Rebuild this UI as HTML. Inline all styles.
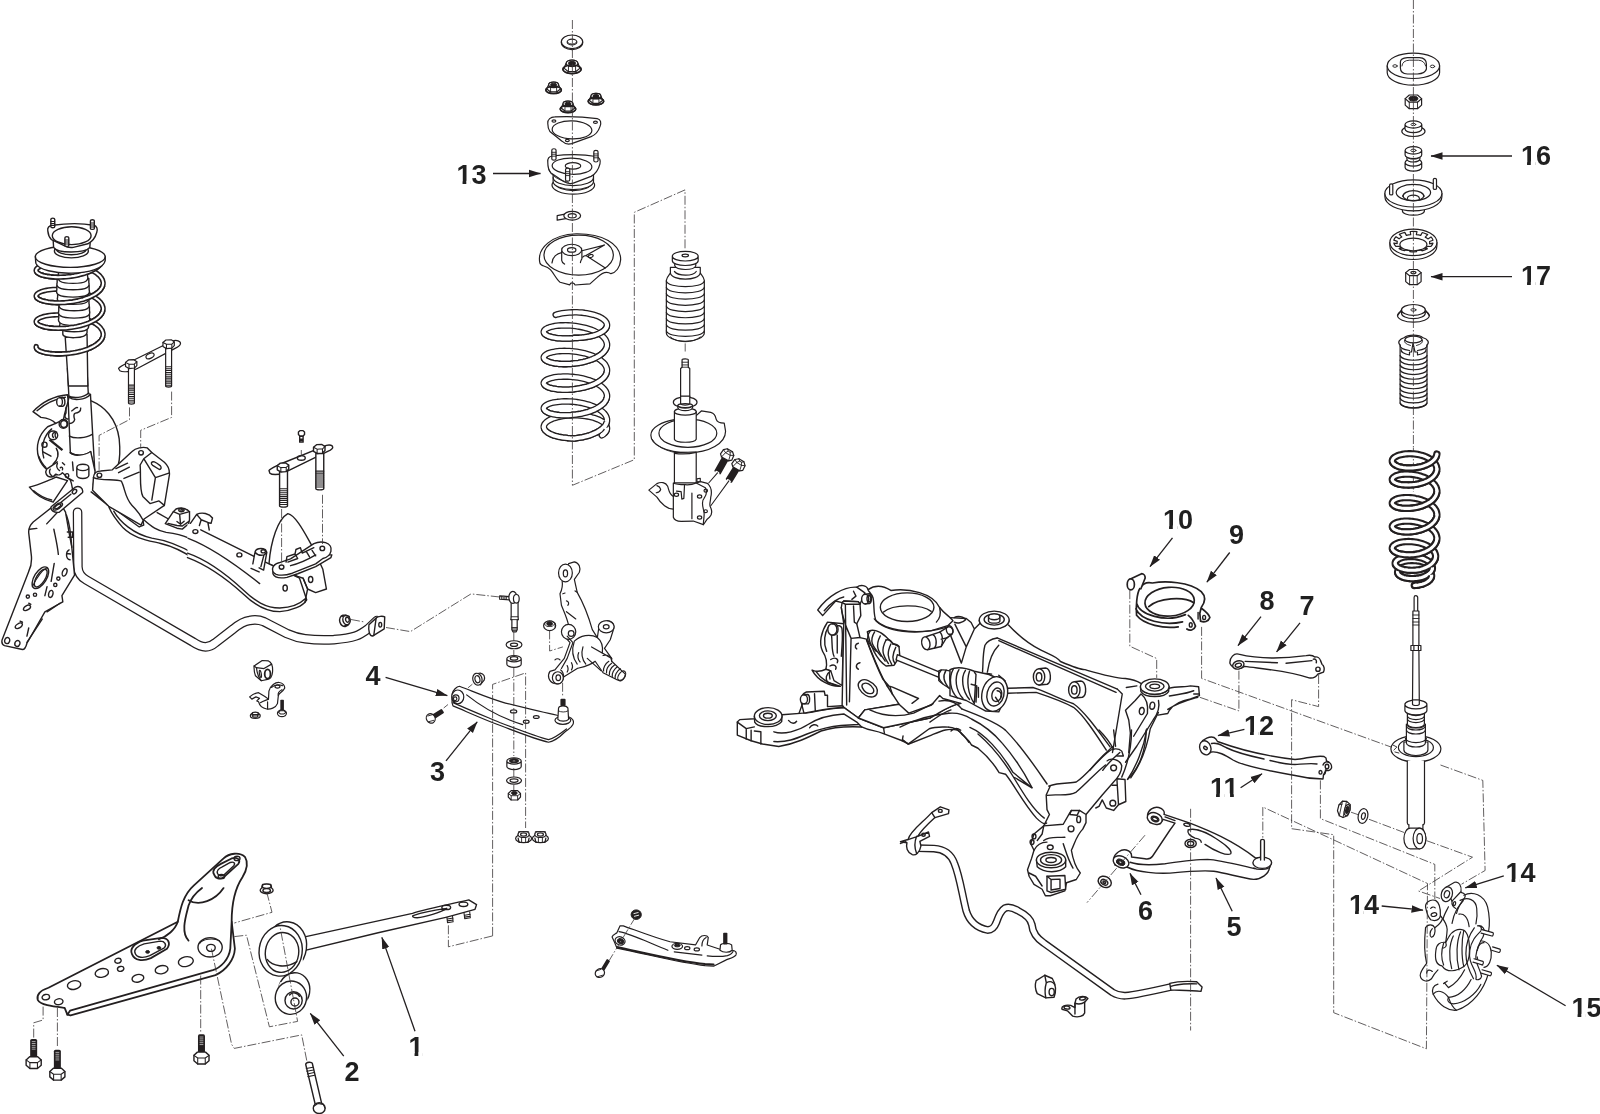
<!DOCTYPE html>
<html><head><meta charset="utf-8"><title>Suspension diagram</title>
<style>
html,body{margin:0;padding:0;background:#fff;}
body{width:1600px;height:1114px;overflow:hidden;font-family:"Liberation Sans",sans-serif;}
svg{display:block;}
.l{fill:none;stroke:#231f20;stroke-width:1.4;stroke-linecap:round;stroke-linejoin:round;}
.w{fill:#fff;stroke:#231f20;stroke-width:1.4;stroke-linecap:round;stroke-linejoin:round;}
.t{fill:none;stroke:#231f20;stroke-width:1.05;stroke-linecap:round;stroke-linejoin:round;}
.f{fill:#fff;stroke:none;}
#rightcol .l,#rightcol .w,#center_top .l,#center_top .w,#center_low .l,#center_low .w,#hub .l,#hub .w,#mid .l,#mid .w,#misc .l,#misc .w{stroke-width:1.2;}
#rightcol .t,#center_top .t,#center_low .t,#mid .t{stroke-width:0.9;}
.k{fill:#231f20;stroke:#231f20;stroke-width:1;stroke-linejoin:round;}
.l,.w,.t,.k,.d{vector-effect:non-scaling-stroke;}
.d{fill:none;stroke:#3a3637;stroke-width:0.8;stroke-dasharray:9 2 1.5 2;}
.a{fill:none;stroke:#231f20;stroke-width:1.3;}
.n{font-family:"Liberation Sans",sans-serif;font-weight:bold;font-size:27px;fill:#231f20;}
.s3{fill:none;stroke:#231f20;stroke-width:4.6;stroke-linecap:round;stroke-linejoin:round;}
.s3i{fill:none;stroke:#fff;stroke-width:2.2;stroke-linecap:round;stroke-linejoin:round;}
</style></head><body>
<svg width="1600" height="1114" viewBox="0 0 1600 1114">
<defs>
<marker id="ah" markerUnits="userSpaceOnUse" markerWidth="14" markerHeight="10" refX="11.5" refY="5" orient="auto"><path d="M0,1.3 L12,5 L0,8.7 Z" fill="#231f20"/></marker>
</defs>
<rect x="0" y="0" width="1600" height="1114" fill="#fff"/>
<g id="strutA">
<g transform="translate(10 370) scale(0.14368)"><path class="l" d="M565,215 C650,250 740,330 760,480 C768,560 765,620 752,668"/>
<path class="w" d="M160,290 C230,215 320,180 400,172 L405,215 C395,260 380,290 372,345 L318,372 C300,350 260,335 215,330 Z"/>
<path class="l" d="M188,283 C240,238 310,203 385,190"/>
<ellipse class="w" cx="345" cy="222" rx="20" ry="30"/>
<path class="l" d="M345,192 L368,190 C385,195 388,245 370,252 L345,252"/>
<path class="f" d="M262,395 C200,450 175,530 200,610 C215,650 235,675 255,690 L330,640 L400,590 L410,420 L330,385 Z"/>
<path class="l" d="M318,372 L262,395 C200,450 175,530 200,610 C215,650 235,675 255,690"/>
<path class="l" d="M290,410 C230,460 215,540 235,612 M200,600 C215,640 230,660 250,678"/>
<ellipse class="w" cx="300" cy="455" rx="32" ry="30"/>
<path class="l" d="M310,435 C295,438 290,455 302,470 M325,432 C312,440 310,458 320,472"/>
<ellipse class="l" cx="240" cy="520" rx="18" ry="18"/>
<path class="l" d="M230,570 L285,600"/>
<path d="M275,485 L365,558" fill="none" stroke="#231f20" stroke-width="2.4" vector-effect="non-scaling-stroke"/>
<path class="l" d="M322,545 C345,580 335,625 300,655"/>
<ellipse class="w" cx="372" cy="375" rx="30" ry="30"/>
<ellipse class="l" cx="375" cy="375" rx="22" ry="24"/>
<path class="f" d="M255,690 C240,715 255,745 285,745 C300,745 312,738 318,725 C335,735 355,730 365,715 C395,740 400,760 420,765 L440,700 L400,620 L330,640 Z"/>
<path class="l" d="M330,640 L255,690 C240,715 255,745 285,745 C300,745 312,738 318,725 C335,735 355,730 365,715 C395,740 400,760 420,765"/>
<path class="l" d="M280,690 C270,705 275,725 290,735 M330,650 C320,670 330,690 345,700 M365,645 L380,660 M350,680 C360,670 370,680 365,695"/>
<ellipse class="l" cx="397" cy="735" rx="12" ry="14"/>
<path class="w" d="M135,815 C200,800 250,775 290,760 L320,745 L400,770 L300,920 C230,900 170,860 135,815 Z"/>
<path class="l" d="M165,840 C210,880 250,895 290,905"/>
<path class="w" d="M400,-10 L410,190 L405,215 L420,575 C450,600 520,600 560,570 L590,700 L575,440 L560,170 L545,165 L535,-10 Z"/>
<path class="l" d="M410,190 C440,215 520,210 560,170 M400,178 C440,200 510,195 548,160"/>
<path class="l" d="M413,460 C450,480 530,475 572,448 M418,575 C450,600 520,600 562,568"/>
<path class="l" d="M395,250 C380,270 400,290 385,310 C375,330 395,345 405,340 M430,285 C450,275 455,255 470,262 M492,265 C495,290 470,300 455,300 C440,305 445,330 450,345 C445,365 430,370 415,372"/>
<path class="f" d="M420,600 C405,660 410,750 440,800 L575,830 L592,705 L562,570 C520,600 450,600 420,600 Z"/>
<path class="l" d="M562,570 L592,705 L580,800 M420,765 C430,790 432,810 436,835 M396,748 L440,772"/>
<path class="l" d="M435,640 L440,700"/>
<path class="w" d="M465,678 L465,733 A42,22 0 0 0 549,733 L549,678 A42,22 0 0 0 465,678 A42,22 0 0 0 549,678"/></g>
<g transform="translate(20 205) scale(0.16155)"></g><path d="M103.1,257.6 L103,258.9 L102.7,260.2 L102.1,261.5 L101.4,262.8 L100.5,264.1 L99.3,265.3 L98,266.5 L96.5,267.7 L94.8,268.8 L92.9,269.8 L90.9,270.8 L88.8,271.8 L86.6,272.6 L84.2,273.4 L81.7,274.1 L79.2,274.8 L76.6,275.4 L74,275.9 L71.3,276.3 L68.6,276.6 L65.9,276.9 L63.3,277 L60.7,277.1 L58.1,277.2 L55.7,277.1 L53.3,277 L51,276.8 L48.8,276.5 L46.8,276.2 L44.9,275.8 L43.2,275.4 L41.6,274.9 L40.2,274.4 L39,273.8 L38,273.2 L37.2,272.6 L36.7,271.9 L36.3,271.3 L36.1,270.6 L36.2,269.9 L36.4,269.2 L36.9,268.6 L37.6,267.9 L38.5,267.3 L39.6,266.7 L40.8,266.2 L42.3,265.7 L43.9,265.2 L45.7,264.8 L47.7,264.4 L49.8,264.1 L52,263.9 L54.4,263.7 L56.8,263.7 L59.3,263.6 L61.9,263.7 L64.5,263.8 L67.2,264 L69.9,264.3 L72.5,264.7 L75.2,265.2 L77.8,265.7 L80.4,266.3 L82.9,267 L85.3,267.7 L87.6,268.6 L89.8,269.5 L91.9,270.4 L93.8,271.5 L95.6,272.5 L97.2,273.7 L98.6,274.8 L99.9,276 L100.9,277.3 L101.8,278.6 L102.4,279.8 L102.8,281.2 L103.1,282.5 L103.1,283.8 L102.9,285.1 L102.5,286.4 L101.8,287.7 L101,289 L100,290.3 L98.7,291.5 L97.3,292.7 L95.7,293.8 L94,294.9 L92,295.9 L90,296.9 L87.8,297.8 L85.5,298.6 L83.1,299.4 L80.6,300 L78,300.7 L75.4,301.2 L72.7,301.7 L70.1,302 L67.4,302.3 L64.7,302.6 L62.1,302.7 L59.5,302.8 L57,302.8 L54.5,302.7 L52.2,302.5 L50,302.3 L47.9,302 L45.9,301.6 L44.1,301.2 L42.4,300.8 L40.9,300.3 L39.7,299.7 L38.5,299.1 L37.6,298.5 L36.9,297.9 L36.5,297.2 L36.2,296.5 L36.1,295.9 L36.3,295.2 L36.6,294.5 L37.2,293.9 L38,293.3 L38.9,292.6 L40.1,292.1 L41.5,291.5 L43,291.1 L44.8,290.6 L46.6,290.2 L48.7,289.9 L50.8,289.6 L53.1,289.4 L55.5,289.3 L57.9,289.2 L60.5,289.2 L63.1,289.3 L65.7,289.5 L68.4,289.8 L71.1,290.1 L73.8,290.5 L76.4,291 L79,291.6 L81.5,292.2 L84,292.9 L86.4,293.7 L88.6,294.6 L90.8,295.5 L92.8,296.5 L94.6,297.5 L96.3,298.6 L97.9,299.8 L99.2,301 L100.4,302.2 L101.3,303.5 L102.1,304.7 L102.6,306.1 L103,307.4 L103.1,308.7 L103,310 L102.7,311.3 L102.2,312.6 L101.5,313.9 L100.5,315.2 L99.4,316.4 L98.1,317.6 L96.6,318.8 L94.9,319.9 L93.1,320.9 L91.1,321.9 L89,322.9 L86.7,323.8 L84.4,324.6 L81.9,325.3 L79.4,325.9 L76.8,326.5 L74.2,327 L71.5,327.4 L68.8,327.8 L66.2,328.1 L63.5,328.2 L60.9,328.3 L58.3,328.4 L55.9,328.3 L53.5,328.2 L51.2,328 L49,327.8 L46.9,327.4 L45,327.1 L43.3,326.6 L41.7,326.1 L40.3,325.6 L39.1,325 L38.1,324.4 L37.3,323.8 L36.7,323.2 L36.3,322.5 L36.1,321.8 L36.1,321.2 L36.4,320.5 L36.9,319.8 L37.5,319.2 L38.4,318.6 L39.5,318 L40.7,317.4 L42.2,316.9 L43.8,316.4 L45.6,316 L47.5,315.7 L49.6,315.4 L51.8,315.1 L54.2,315 L56.6,314.9 L59.1,314.8 L61.7,314.9 L64.3,315 L67,315.2 L69.6,315.5 L72.3,315.9 L75,316.3 L77.6,316.8 L80.2,317.4 L82.7,318.1 L85.1,318.9 L87.4,319.7 L89.6,320.6 L91.7,321.6 L93.7,322.6 L95.4,323.6 L97.1,324.8 L98.5,325.9 L99.8,327.1 L100.8,328.4 L101.7,329.7 L102.4,330.9 L102.8,332.3 L103.1,333.6 L103.1,334.9 L102.9,336.2 L102.5,337.5 L101.9,338.8 L101.1,340.1 L100,341.4 L98.8,342.6 L97.4,343.8 L95.8,344.9 L94.1,346 L92.2,347 L90.1,348 L88,348.9 L85.7,349.7 L83.3,350.5 L80.8,351.2 L78.2,351.8 L75.6,352.4 L73,352.8 L70.3,353.2 L67.6,353.5 L64.9,353.7 L62.3,353.9 L59.7,354 L57.2,354 L54.7,353.9 L52.4,353.7 L50.1,353.5 L48,353.2 L46,352.9 L44.2,352.5 L42.6,352 L41.1,351.5 L39.7,351 L38.6,350.4 L37.7,349.8 L37,349.1 L36.5,348.5 L36.2,347.8 L36.1,347.1 L36.2,346.5" fill="none" stroke="#231f20" stroke-width="5.3" stroke-linecap="round" stroke-linejoin="round"/>
<path d="M103.1,257.6 L103,258.9 L102.7,260.2 L102.1,261.5 L101.4,262.8 L100.5,264.1 L99.3,265.3 L98,266.5 L96.5,267.7 L94.8,268.8 L92.9,269.8 L90.9,270.8 L88.8,271.8 L86.6,272.6 L84.2,273.4 L81.7,274.1 L79.2,274.8 L76.6,275.4 L74,275.9 L71.3,276.3 L68.6,276.6 L65.9,276.9 L63.3,277 L60.7,277.1 L58.1,277.2 L55.7,277.1 L53.3,277 L51,276.8 L48.8,276.5 L46.8,276.2 L44.9,275.8 L43.2,275.4 L41.6,274.9 L40.2,274.4 L39,273.8 L38,273.2 L37.2,272.6 L36.7,271.9 L36.3,271.3 L36.1,270.6 L36.2,269.9 L36.4,269.2 L36.9,268.6 L37.6,267.9 L38.5,267.3 L39.6,266.7 L40.8,266.2 L42.3,265.7 L43.9,265.2 L45.7,264.8 L47.7,264.4 L49.8,264.1 L52,263.9 L54.4,263.7 L56.8,263.7 L59.3,263.6 L61.9,263.7 L64.5,263.8 L67.2,264 L69.9,264.3 L72.5,264.7 L75.2,265.2 L77.8,265.7 L80.4,266.3 L82.9,267 L85.3,267.7 L87.6,268.6 L89.8,269.5 L91.9,270.4 L93.8,271.5 L95.6,272.5 L97.2,273.7 L98.6,274.8 L99.9,276 L100.9,277.3 L101.8,278.6 L102.4,279.8 L102.8,281.2 L103.1,282.5 L103.1,283.8 L102.9,285.1 L102.5,286.4 L101.8,287.7 L101,289 L100,290.3 L98.7,291.5 L97.3,292.7 L95.7,293.8 L94,294.9 L92,295.9 L90,296.9 L87.8,297.8 L85.5,298.6 L83.1,299.4 L80.6,300 L78,300.7 L75.4,301.2 L72.7,301.7 L70.1,302 L67.4,302.3 L64.7,302.6 L62.1,302.7 L59.5,302.8 L57,302.8 L54.5,302.7 L52.2,302.5 L50,302.3 L47.9,302 L45.9,301.6 L44.1,301.2 L42.4,300.8 L40.9,300.3 L39.7,299.7 L38.5,299.1 L37.6,298.5 L36.9,297.9 L36.5,297.2 L36.2,296.5 L36.1,295.9 L36.3,295.2 L36.6,294.5 L37.2,293.9 L38,293.3 L38.9,292.6 L40.1,292.1 L41.5,291.5 L43,291.1 L44.8,290.6 L46.6,290.2 L48.7,289.9 L50.8,289.6 L53.1,289.4 L55.5,289.3 L57.9,289.2 L60.5,289.2 L63.1,289.3 L65.7,289.5 L68.4,289.8 L71.1,290.1 L73.8,290.5 L76.4,291 L79,291.6 L81.5,292.2 L84,292.9 L86.4,293.7 L88.6,294.6 L90.8,295.5 L92.8,296.5 L94.6,297.5 L96.3,298.6 L97.9,299.8 L99.2,301 L100.4,302.2 L101.3,303.5 L102.1,304.7 L102.6,306.1 L103,307.4 L103.1,308.7 L103,310 L102.7,311.3 L102.2,312.6 L101.5,313.9 L100.5,315.2 L99.4,316.4 L98.1,317.6 L96.6,318.8 L94.9,319.9 L93.1,320.9 L91.1,321.9 L89,322.9 L86.7,323.8 L84.4,324.6 L81.9,325.3 L79.4,325.9 L76.8,326.5 L74.2,327 L71.5,327.4 L68.8,327.8 L66.2,328.1 L63.5,328.2 L60.9,328.3 L58.3,328.4 L55.9,328.3 L53.5,328.2 L51.2,328 L49,327.8 L46.9,327.4 L45,327.1 L43.3,326.6 L41.7,326.1 L40.3,325.6 L39.1,325 L38.1,324.4 L37.3,323.8 L36.7,323.2 L36.3,322.5 L36.1,321.8 L36.1,321.2 L36.4,320.5 L36.9,319.8 L37.5,319.2 L38.4,318.6 L39.5,318 L40.7,317.4 L42.2,316.9 L43.8,316.4 L45.6,316 L47.5,315.7 L49.6,315.4 L51.8,315.1 L54.2,315 L56.6,314.9 L59.1,314.8 L61.7,314.9 L64.3,315 L67,315.2 L69.6,315.5 L72.3,315.9 L75,316.3 L77.6,316.8 L80.2,317.4 L82.7,318.1 L85.1,318.9 L87.4,319.7 L89.6,320.6 L91.7,321.6 L93.7,322.6 L95.4,323.6 L97.1,324.8 L98.5,325.9 L99.8,327.1 L100.8,328.4 L101.7,329.7 L102.4,330.9 L102.8,332.3 L103.1,333.6 L103.1,334.9 L102.9,336.2 L102.5,337.5 L101.9,338.8 L101.1,340.1 L100,341.4 L98.8,342.6 L97.4,343.8 L95.8,344.9 L94.1,346 L92.2,347 L90.1,348 L88,348.9 L85.7,349.7 L83.3,350.5 L80.8,351.2 L78.2,351.8 L75.6,352.4 L73,352.8 L70.3,353.2 L67.6,353.5 L64.9,353.7 L62.3,353.9 L59.7,354 L57.2,354 L54.7,353.9 L52.4,353.7 L50.1,353.5 L48,353.2 L46,352.9 L44.2,352.5 L42.6,352 L41.1,351.5 L39.7,351 L38.6,350.4 L37.7,349.8 L37,349.1 L36.5,348.5 L36.2,347.8 L36.1,347.1 L36.2,346.5" fill="none" stroke="#fff" stroke-width="2.1" stroke-linecap="round" stroke-linejoin="round"/><g transform="translate(20 205) scale(0.16155)">
<path class="w" d="M280,820 L300,1120 L420,1120 L415,800 Z"/>
<path class="w" d="M265,800 C265,830 410,830 415,790 L415,770 L265,770 Z"/>
<path class="w" d="M247,740 C239,765 252,785 335,785 C418,785 431,765 423,740 L423,715 L247,715 Z"/>
<path class="w" d="M240,700 C232,725 245,745 335,745 C425,745 438,725 430,700 L430,675 L240,675 Z"/>
<path class="w" d="M240,655 C232,680 245,700 335,700 C425,700 438,680 430,655 L430,630 L240,630 Z"/>
<path class="w" d="M243,610 C235,635 248,655 335,655 C422,655 435,635 427,610 L427,585 L243,585 Z"/>
<path class="w" d="M233,570 C225,595 238,615 328,615 C418,615 431,595 423,570 L423,545 L233,545 Z"/>
<path class="w" d="M228,525 C220,550 233,570 328,570 C423,570 436,550 428,525 L428,500 L228,500 Z"/>
<path class="w" d="M230,480 C222,505 235,525 328,525 C421,525 434,505 426,480 L426,455 L230,455 Z"/>
<path class="w" d="M238,440 C230,465 243,485 328,485 C413,485 426,465 418,440 L418,415 L238,415 Z"/>
</g><path d="M102.7,260.2 L102.1,261.5 L101.4,262.8 L100.5,264.1 L99.3,265.3 L98,266.5 L96.5,267.7 L94.8,268.8 L92.9,269.8 L90.9,270.8 L88.8,271.8 L86.6,272.6 L84.2,273.4 L81.7,274.1 L79.2,274.8 L76.6,275.4 L74,275.9 L71.3,276.3 L68.6,276.6 L65.9,276.9 L63.3,277 L60.7,277.1 L58.1,277.2 L55.7,277.1 L53.3,277 L51,276.8 L48.8,276.5 L46.8,276.2 L44.9,275.8 L43.2,275.4 L41.6,274.9 L40.2,274.4 L39,273.8 L38,273.2 L37.2,272.6 L36.7,271.9 L36.3,271.3" fill="none" stroke="#231f20" stroke-width="5.3" stroke-linecap="butt" stroke-linejoin="round"/>
<path d="M103.1,257.6 L103,258.9 L102.7,260.2 L102.1,261.5 L101.4,262.8 L100.5,264.1 L99.3,265.3 L98,266.5 L96.5,267.7 L94.8,268.8 L92.9,269.8 L90.9,270.8 L88.8,271.8 L86.6,272.6 L84.2,273.4 L81.7,274.1 L79.2,274.8 L76.6,275.4 L74,275.9 L71.3,276.3 L68.6,276.6 L65.9,276.9 L63.3,277 L60.7,277.1 L58.1,277.2 L55.7,277.1 L53.3,277 L51,276.8 L48.8,276.5 L46.8,276.2 L44.9,275.8 L43.2,275.4 L41.6,274.9 L40.2,274.4 L39,273.8 L38,273.2 L37.2,272.6 L36.7,271.9 L36.3,271.3 L36.1,270.6 L36.2,269.9" fill="none" stroke="#fff" stroke-width="2.1" stroke-linecap="butt" stroke-linejoin="round"/>
<path d="M102.9,285.1 L102.5,286.4 L101.8,287.7 L101,289 L100,290.3 L98.7,291.5 L97.3,292.7 L95.7,293.8 L94,294.9 L92,295.9 L90,296.9 L87.8,297.8 L85.5,298.6 L83.1,299.4 L80.6,300 L78,300.7 L75.4,301.2 L72.7,301.7 L70.1,302 L67.4,302.3 L64.7,302.6 L62.1,302.7 L59.5,302.8 L57,302.8 L54.5,302.7 L52.2,302.5 L50,302.3 L47.9,302 L45.9,301.6 L44.1,301.2 L42.4,300.8 L40.9,300.3 L39.7,299.7 L38.5,299.1 L37.6,298.5 L36.9,297.9 L36.5,297.2 L36.2,296.5" fill="none" stroke="#231f20" stroke-width="5.3" stroke-linecap="butt" stroke-linejoin="round"/>
<path d="M103.1,282.5 L103.1,283.8 L102.9,285.1 L102.5,286.4 L101.8,287.7 L101,289 L100,290.3 L98.7,291.5 L97.3,292.7 L95.7,293.8 L94,294.9 L92,295.9 L90,296.9 L87.8,297.8 L85.5,298.6 L83.1,299.4 L80.6,300 L78,300.7 L75.4,301.2 L72.7,301.7 L70.1,302 L67.4,302.3 L64.7,302.6 L62.1,302.7 L59.5,302.8 L57,302.8 L54.5,302.7 L52.2,302.5 L50,302.3 L47.9,302 L45.9,301.6 L44.1,301.2 L42.4,300.8 L40.9,300.3 L39.7,299.7 L38.5,299.1 L37.6,298.5 L36.9,297.9 L36.5,297.2 L36.2,296.5 L36.1,295.9 L36.3,295.2" fill="none" stroke="#fff" stroke-width="2.1" stroke-linecap="butt" stroke-linejoin="round"/>
<path d="M103,310 L102.7,311.3 L102.2,312.6 L101.5,313.9 L100.5,315.2 L99.4,316.4 L98.1,317.6 L96.6,318.8 L94.9,319.9 L93.1,320.9 L91.1,321.9 L89,322.9 L86.7,323.8 L84.4,324.6 L81.9,325.3 L79.4,325.9 L76.8,326.5 L74.2,327 L71.5,327.4 L68.8,327.8 L66.2,328.1 L63.5,328.2 L60.9,328.3 L58.3,328.4 L55.9,328.3 L53.5,328.2 L51.2,328 L49,327.8 L46.9,327.4 L45,327.1 L43.3,326.6 L41.7,326.1 L40.3,325.6 L39.1,325 L38.1,324.4 L37.3,323.8 L36.7,323.2 L36.3,322.5" fill="none" stroke="#231f20" stroke-width="5.3" stroke-linecap="butt" stroke-linejoin="round"/>
<path d="M103,307.4 L103.1,308.7 L103,310 L102.7,311.3 L102.2,312.6 L101.5,313.9 L100.5,315.2 L99.4,316.4 L98.1,317.6 L96.6,318.8 L94.9,319.9 L93.1,320.9 L91.1,321.9 L89,322.9 L86.7,323.8 L84.4,324.6 L81.9,325.3 L79.4,325.9 L76.8,326.5 L74.2,327 L71.5,327.4 L68.8,327.8 L66.2,328.1 L63.5,328.2 L60.9,328.3 L58.3,328.4 L55.9,328.3 L53.5,328.2 L51.2,328 L49,327.8 L46.9,327.4 L45,327.1 L43.3,326.6 L41.7,326.1 L40.3,325.6 L39.1,325 L38.1,324.4 L37.3,323.8 L36.7,323.2 L36.3,322.5 L36.1,321.8 L36.1,321.2" fill="none" stroke="#fff" stroke-width="2.1" stroke-linecap="butt" stroke-linejoin="round"/>
<path d="M102.9,336.2 L102.5,337.5 L101.9,338.8 L101.1,340.1 L100,341.4 L98.8,342.6 L97.4,343.8 L95.8,344.9 L94.1,346 L92.2,347 L90.1,348 L88,348.9 L85.7,349.7 L83.3,350.5 L80.8,351.2 L78.2,351.8 L75.6,352.4 L73,352.8 L70.3,353.2 L67.6,353.5 L64.9,353.7 L62.3,353.9 L59.7,354 L57.2,354 L54.7,353.9 L52.4,353.7 L50.1,353.5 L48,353.2 L46,352.9 L44.2,352.5 L42.6,352 L41.1,351.5 L39.7,351 L38.6,350.4 L37.7,349.8 L37,349.1 L36.5,348.5 L36.2,347.8" fill="none" stroke="#231f20" stroke-width="5.3" stroke-linecap="butt" stroke-linejoin="round"/>
<path d="M103.1,333.6 L103.1,334.9 L102.9,336.2 L102.5,337.5 L101.9,338.8 L101.1,340.1 L100,341.4 L98.8,342.6 L97.4,343.8 L95.8,344.9 L94.1,346 L92.2,347 L90.1,348 L88,348.9 L85.7,349.7 L83.3,350.5 L80.8,351.2 L78.2,351.8 L75.6,352.4 L73,352.8 L70.3,353.2 L67.6,353.5 L64.9,353.7 L62.3,353.9 L59.7,354 L57.2,354 L54.7,353.9 L52.4,353.7 L50.1,353.5 L48,353.2 L46,352.9 L44.2,352.5 L42.6,352 L41.1,351.5 L39.7,351 L38.6,350.4 L37.7,349.8 L37,349.1 L36.5,348.5 L36.2,347.8 L36.1,347.1 L36.2,346.5" fill="none" stroke="#fff" stroke-width="2.1" stroke-linecap="butt" stroke-linejoin="round"/><g transform="translate(20 205) scale(0.16155)">
<path class="w" d="M95,320 L98,360 C110,400 220,425 320,422 C430,420 520,390 527,345 L527,320 Z"/>
<ellipse class="w" cx="311" cy="320" rx="216" ry="66"/>
<ellipse class="w" cx="318" cy="285" rx="105" ry="42"/>
<ellipse class="l" cx="318" cy="272" rx="92" ry="36"/>
<path class="w" d="M205,215 L208,262 C230,300 400,300 432,262 L436,215 Z"/>
<path class="w" d="M172,160 C168,140 180,128 200,125 C300,112 400,115 455,125 C478,130 482,150 475,170 C465,205 450,225 420,240 L330,262 C305,266 290,262 270,250 L195,215 C180,200 174,180 172,160 Z"/>
<ellipse class="l" cx="320" cy="190" rx="120" ry="55"/>
<path class="w" d="M191,135 L191,88 A12,7 0 0 1 215,88 L215,135 A12,6 0 0 1 191,135"/><path class="t" d="M191,102 L215,102 M191,114 L215,114 M191,126 L215,126"/>
<path class="w" d="M436,145 L436,98 A12,7 0 0 1 460,98 L460,145 A12,6 0 0 1 436,145"/><path class="t" d="M436,112 L460,112 M436,124 L460,124 M436,136 L460,136"/>
<path class="w" d="M278,250 L278,203 A12,7 0 0 1 302,203 L302,250 A12,6 0 0 1 278,250"/><path class="t" d="M278,217 L302,217 M278,229 L302,229 M278,241 L302,241"/></g>
</g>

<g id="subA">
<g transform="translate(80 430) scale(0.17953)"><path class="f" d="M160,425 C175,470 200,500 240,545 C300,605 380,615 450,632 C520,648 580,680 640,720 L640,500 L600,520 L500,500 L430,460 L350,500 Z"/>
<path class="l" d="M160,425 C175,470 200,500 240,545 C300,605 380,615 450,632 C520,648 580,680 640,720 M500,500 L430,460"/>
<path class="l" d="M188,452 C220,510 300,582 400,602 C470,612 560,645 640,692"/>
<path class="l" d="M355,500 C400,540 430,560 480,570 C520,575 560,580 600,600 L640,625"/>
<path class="w" d="M62,345 L330,540 L355,530 L350,497 L150,415 Z"/>
<path class="l" d="M150,415 L335,518"/>
<path class="w" d="M475,522 L520,455 L535,440 C560,430 590,435 610,455 L610,500 L605,522 L570,552 L540,547 Z"/>
<path class="l" d="M520,455 L555,470 L610,455 M555,470 L560,525 M490,520 L540,532 L570,535 L605,510 M540,510 L560,525 L580,508"/>
<ellipse class="l" cx="565" cy="446" rx="15" ry="9"/>
<ellipse class="t" cx="567" cy="447" rx="6" ry="4"/>
<path class="l" d="M615,520 L650,470 C680,455 720,465 738,490 L730,520 L712,515 L720,557 M650,470 L675,500 L665,532 M675,500 L712,515"/>
<ellipse class="l" cx="645" cy="567" rx="16" ry="13"/>
<path class="w" d="M75,265 C75,240 95,228 115,228 L180,222 L290,120 C310,100 350,92 375,100 L400,125 L470,180 C492,200 500,225 498,250 L470,420 L355,497 L340,530 L160,425 L70,335 Z"/>
<path class="l" d="M400,125 L355,160 L335,195 C340,260 330,330 350,370 L390,410 L440,395 L470,420 M355,160 L420,265 L495,240 M420,265 L400,390"/>
<path class="l" d="M398,182 C405,172 418,175 448,200 C455,208 452,220 442,220 L405,197 C398,192 396,188 398,182 Z"/>
<path class="l" d="M75,265 C120,285 200,270 230,285 C250,320 250,380 290,420 C310,440 340,480 350,500 M245,270 L330,235 M200,215 L265,185 M215,238 L275,207"/>
<ellipse class="l" cx="340" cy="127" rx="13" ry="12"/>
<ellipse class="l" cx="108" cy="252" rx="13" ry="12"/></g>
<g transform="translate(190 440) scale(0.17953)"><path class="w" d="M440,690 C450,560 490,440 545,410 C590,420 640,520 680,590 L740,720 L760,830 L700,850 L655,830 L630,770 L600,760 Z"/>
<path class="f" d="M-14,465 L60,500 L340,640 L440,690 L610,770 L650,890 C630,925 570,950 500,956 C420,956 360,918 300,860 C200,770 80,690 -14,655 Z"/>
<path class="l" d="M60,500 L340,640 L440,690 L610,770 L650,890 C630,925 570,950 500,956 C420,956 360,918 300,860 C200,770 80,690 -14,655"/>
<path class="l" d="M-10,548 C100,590 250,690 388,800"/>
<path class="l" d="M-14,630 C80,662 200,745 300,838 C360,895 420,936 500,936 C560,932 610,915 640,885"/>
<path class="l" d="M630,770 L655,830 L640,905"/>
<ellipse class="l" cx="275" cy="640" rx="14" ry="11"/>
<ellipse class="l" cx="30" cy="510" rx="14" ry="11"/>
<ellipse class="l" cx="530" cy="825" rx="12" ry="17"/>
<ellipse class="l" cx="672" cy="777" rx="12" ry="17"/>
<path class="w" d="M350,690 L362,625 C365,605 395,598 420,610 L428,625 L410,725 L385,712 M362,625 C375,640 395,645 412,640 L428,625 M412,640 L395,705 M340,715 L385,735"/>
<ellipse class="l" cx="408" cy="620" rx="12" ry="9"/>
<path class="w" d="M462,725 L462,745 C470,765 500,772 540,765 L600,745 L700,705 L785,655 L790,640 L770,640 Z"/>
<path class="w" d="M460,715 C465,695 480,688 495,684 L560,662 L690,577 C710,568 735,566 755,572 C780,580 790,600 785,620 C780,640 760,655 740,660 L700,690 L570,742 C540,752 500,755 480,748 C465,742 458,730 460,715 Z"/>
<path class="l" d="M535,680 L540,650 L585,635 L590,610 L615,600 L625,630 L690,600 M560,700 C600,690 650,670 700,640 M650,625 L665,650 M680,615 L700,645 M585,635 L600,660 L545,680"/>
<ellipse class="l" cx="510" cy="708" rx="13" ry="12"/>
<ellipse class="l" cx="737" cy="604" rx="13" ry="12"/>
<path class="w" d="M440,170 C445,160 470,150 500,135 L760,30 C780,25 795,30 795,40 C795,50 785,55 770,62 L520,185 C490,195 455,195 445,185 Z"/>
<ellipse class="l" cx="620" cy="100" rx="22" ry="13"/>
<path class="w" d="M499,175 L499,368 C499,376 543,376 543,368 L543,175 Z"/><path class="t" d="M499,271.5 L543,271.5 M499,282.5 L543,282.5 M499,293.5 L543,293.5 M499,304.5 L543,304.5 M499,315.5 L543,315.5 M499,326.5 L543,326.5 M499,337.5 L543,337.5 M499,348.5 L543,348.5 M499,359.5 L543,359.5 "/>
<path class="w" d="M701,75 L701,272 C701,280 745,280 745,272 L745,75 Z"/><path class="t" d="M701,173.5 L745,173.5 M701,184.5 L745,184.5 M701,195.5 L745,195.5 M701,206.5 L745,206.5 M701,217.5 L745,217.5 M701,228.5 L745,228.5 M701,239.5 L745,239.5 M701,250.5 L745,250.5 M701,261.5 L745,261.5 "/>
<path class="w" d="M486,143 L486,166 L506,178 L536,176 L550,162 L550,140 L533,128 L503,129 Z"/><path class="t" d="M486,143 L506,154 L536,152 L550,140 M506,154 L506,178 M536,152 L536,176"/>
<path class="w" d="M688,40 L688,63 L708,75 L738,73 L752,59 L752,37 L735,25 L705,26 Z"/><path class="t" d="M688,40 L708,51 L738,49 L752,37 M708,51 L708,75 M738,49 L738,73"/>
<path class="w" d="M611,-20 L611,12 L630,12 L630,-20 Z M611,-5 L630,-5 M611,3 L630,3"/>
<path class="w" d="M604,-45 L604,-30 L612,-22 L630,-22 L638,-30 L638,-45 L630,-52 L612,-52 Z"/></g>
<g transform="translate(0 470) scale(0.17953)"><path d="M432,235 L434,540 C436,580 455,598 480,612 L1075,958 C1100,975 1120,985 1145,985 C1170,985 1185,975 1200,962 L1300,885 C1330,860 1360,842 1390,838 C1420,832 1440,832 1470,845 L1600,912 C1640,930 1660,936 1700,940 C1760,948 1800,948 1860,945 C1920,940 1950,935 1980,925 C2010,915 2030,900 2050,885 L2100,838" fill="none" stroke="#231f20" stroke-width="9.6" stroke-linejoin="round" stroke-linecap="round" vector-effect="non-scaling-stroke"/>
<path d="M432,235 L434,540 C436,580 455,598 480,612 L1075,958 C1100,975 1120,985 1145,985 C1170,985 1185,975 1200,962 L1300,885 C1330,860 1360,842 1390,838 C1420,832 1440,832 1470,845 L1600,912 C1640,930 1660,936 1700,940 C1760,948 1800,948 1860,945 C1920,940 1950,935 1980,925 C2010,915 2030,900 2050,885 L2100,838" fill="none" stroke="#fff" stroke-width="7.1" stroke-linejoin="round" stroke-linecap="round" vector-effect="non-scaling-stroke"/>
<path class="w" d="M2055,862 L2095,825 C2105,815 2130,812 2143,818 L2140,885 L2075,925 C2060,925 2050,900 2055,862 Z"/>
<path class="l" d="M2095,825 L2082,922"/>
<ellipse class="l" cx="2118" cy="862" rx="8" ry="13"/>
<ellipse class="w" cx="1918" cy="840" rx="26" ry="32" transform="rotate(-15 1918 840)"/><path class="l" d="M1905,815 L1925,808 L1945,815 L1950,840 L1940,862 L1920,868"/><ellipse class="w" cx="1930" cy="836" rx="20" ry="26" transform="rotate(-15 1930 836)"/><ellipse class="l" cx="1935" cy="834" rx="10" ry="14" transform="rotate(-15 1935 834)"/>
<path class="w" d="M330,175 L185,290 C165,310 158,330 160,350 L175,480 C178,520 170,545 160,565 L12,945 C8,960 12,972 25,978 L125,1000 C140,1000 145,985 150,965 L250,790 L330,745 L350,735 L345,700 L415,585 L400,430 L385,350 L365,235 Z"/>
<ellipse class="l" cx="225" cy="600" rx="34" ry="68" transform="rotate(32 225 600)"/>
<ellipse class="l" cx="227" cy="602" rx="24" ry="56" transform="rotate(32 227 602)"/>
<path class="t" d="M180,650 C200,610 230,560 262,545"/>
<ellipse class="l" cx="360" cy="570" rx="12" ry="22" transform="rotate(20 360 570)"/>
<ellipse class="l" cx="325" cy="605" rx="9" ry="9"/>
<ellipse class="l" cx="308" cy="640" rx="9" ry="9"/>
<ellipse class="l" cx="283" cy="690" rx="12" ry="20" transform="rotate(15 283 690)"/>
<ellipse class="l" cx="155" cy="705" rx="9" ry="9"/>
<ellipse class="l" cx="195" cy="695" rx="9" ry="9"/>
<ellipse class="l" cx="150" cy="768" rx="22" ry="12" transform="rotate(-32 150 768)"/>
<ellipse class="l" cx="105" cy="868" rx="22" ry="12" transform="rotate(-32 105 868)"/>
<ellipse class="l" cx="40" cy="950" rx="14" ry="17" transform="rotate(20 40 950)"/>
<ellipse class="l" cx="97" cy="966" rx="14" ry="17" transform="rotate(20 97 966)"/>
<path class="l" d="M302,520 L285,620 M250,700 L262,650 M235,830 L150,960 M330,745 L262,790 M165,330 L205,325 M260,300 L340,215 M300,330 C310,380 320,420 325,470 M160,742 L172,748 M112,842 L125,848 M160,880 L150,925"/>
<path class="l" d="M370,250 C385,290 395,350 400,430 M375,345 L405,345 L405,375 L380,375 M385,445 C365,455 365,495 390,500 M375,465 L392,468"/>
<path class="w" d="M285,205 L420,95 C440,85 465,100 460,125 L330,235 C300,240 280,225 285,205 Z"/>
<ellipse class="l" cx="415" cy="120" rx="10" ry="14" transform="rotate(40 415 120)"/>
<ellipse class="l" cx="322" cy="203" rx="30" ry="13" transform="rotate(-35 322 203)"/>
<ellipse class="l" cx="322" cy="203" rx="20" ry="8" transform="rotate(-35 322 203)"/>
<path class="l" d="M340,180 L395,135"/></g>
</g>

<g id="botleft">
<g transform="translate(300 814) scale(0.31250)"><path class="w" d="M-40,405 L360,318 C400,305 450,295 540,275 L565,290 L560,305 L470,330 L250,380 L-40,450 Z"/>
<path class="l" d="M362,325 C400,312 440,306 470,302 C450,315 400,330 375,332 C362,332 358,328 362,325 Z"/>
<ellipse class="l" cx="468" cy="299" rx="14" ry="7"/>
<ellipse class="l" cx="523" cy="289" rx="14" ry="7"/>
<path class="t" d="M470,330 L472,348 L490,345 L488,326 M472,336 L490,333 M472,342 L490,339 M525,318 L527,335 L545,332 L543,313 M527,324 L545,321 M527,330 L545,327"/></g>
<g transform="translate(0 814) scale(0.26936)"><path class="l" d="M250,745 L262,748 L800,598 C840,580 870,540 872,500 L860,400" style="stroke-width:1.8"/>
<path class="w" d="M140,690 C135,670 150,655 180,645 L660,400 C670,350 680,300 720,265 L830,165 C850,145 890,140 910,160 C925,185 915,210 900,235 C870,280 860,330 860,400 L855,500 C850,540 820,570 790,580 L260,730 L250,745 L240,720 C200,715 150,710 140,690 Z" style="stroke-width:1.8"/>
<path class="l" d="M700,470 C670,440 690,380 700,340 C710,310 730,290 750,275 M700,320 C740,345 800,320 830,275 M660,400 C650,430 620,455 590,465" style="stroke-width:1.8"/>
<path class="l" d="M795,225 C785,210 800,195 820,185 L860,165 C880,158 895,170 885,185 L830,235 C815,245 800,240 795,225 Z" style="stroke-width:1.8"/>
<path class="l" d="M808,222 C802,212 812,202 825,196 L855,180 C868,176 875,182 868,192 L832,226 C822,232 812,230 808,222 Z"/>
<ellipse class="l" cx="822" cy="232" rx="12" ry="8"/>
<ellipse class="l" cx="880" cy="165" rx="11" ry="8"/>
<path class="l" d="M490,520 C480,500 500,480 530,470 L600,460 C625,460 635,480 620,500 L560,535 C530,548 500,545 490,520 Z" style="stroke-width:1.8"/>
<path class="l" d="M502,518 C495,503 510,490 535,482 L595,472 C612,472 620,485 610,497 L556,526 C532,536 508,534 502,518 Z"/>
<ellipse class="k" cx="548" cy="512" rx="7" ry="5"/>
<ellipse class="k" cx="590" cy="497" rx="7" ry="5"/>
<ellipse class="l" cx="170" cy="680" rx="14" ry="10" transform="rotate(-12 170 680)"/>
<ellipse class="l" cx="218" cy="697" rx="16" ry="11" transform="rotate(-12 218 697)"/>
<ellipse class="l" cx="275" cy="635" rx="25" ry="16" transform="rotate(-12 275 635)"/>
<ellipse class="l" cx="378" cy="590" rx="25" ry="16" transform="rotate(-12 378 590)"/>
<ellipse class="l" cx="438" cy="545" rx="12" ry="9" transform="rotate(-12 438 545)"/>
<ellipse class="l" cx="448" cy="575" rx="12" ry="9" transform="rotate(-12 448 575)"/>
<ellipse class="l" cx="512" cy="610" rx="22" ry="14" transform="rotate(-12 512 610)"/>
<ellipse class="l" cx="600" cy="578" rx="24" ry="15" transform="rotate(-12 600 578)"/>
<ellipse class="l" cx="690" cy="548" rx="28" ry="18" transform="rotate(-12 690 548)"/>
<ellipse class="l" cx="780" cy="495" rx="45" ry="36"/>
<ellipse class="l" cx="783" cy="497" rx="16" ry="13"/>
<path class="t" d="M742,480 C750,465 790,458 815,470"/>
<rect x="112" y="835" width="26" height="70" rx="6" fill="#231f20"/><path d="M118,845 L132,845 M118,852 L132,852 M118,859 L132,859 M118,866 L132,866 M118,873 L132,873 " stroke="#fff" stroke-width="0.6" fill="none" vector-effect="non-scaling-stroke"/><path class="w" d="M97,913 L110,901 L140,901 L153,913 L153,933 L139,945 L111,945 L97,933 Z"/><path class="t" d="M97,913 L111,923 L139,923 L153,913 M111,923 L111,945 M139,923 L139,945"/>
<rect x="200" y="875" width="26" height="73" rx="6" fill="#231f20"/><path d="M206,885 L220,885 M206,892 L220,892 M206,899 L220,899 M206,906 L220,906 M206,913 L220,913 " stroke="#fff" stroke-width="0.6" fill="none" vector-effect="non-scaling-stroke"/><path class="w" d="M185,956 L198,944 L228,944 L241,956 L241,976 L227,988 L199,988 L185,976 Z"/><path class="t" d="M185,956 L199,966 L227,966 L241,956 M199,966 L199,988 M227,966 L227,988"/>
<rect x="735" y="818" width="26" height="70" rx="6" fill="#231f20"/><path d="M741,828 L755,828 M741,835 L755,835 M741,842 L755,842 M741,849 L755,849 M741,856 L755,856 " stroke="#fff" stroke-width="0.6" fill="none" vector-effect="non-scaling-stroke"/><path class="w" d="M720,896 L733,884 L763,884 L776,896 L776,916 L762,928 L734,928 L720,916 Z"/><path class="t" d="M720,896 L734,906 L762,906 L776,896 M734,906 L734,928 M762,906 L762,928"/>
<ellipse class="w" cx="990" cy="283" rx="24" ry="13"/>
<path class="l" d="M972,272 L975,262 L1005,262 L1008,272"/>
<ellipse class="w" cx="990" cy="268" rx="16" ry="8"/>
<ellipse class="l" cx="990" cy="284" rx="14" ry="7"/>
<ellipse class="w" cx="1062" cy="492" rx="76" ry="92" transform="rotate(8 1062 492)"/>
<path class="f" d="M965,480 L985,455 L1120,440 L1125,560 L1100,590 L1000,600 Z"/>
<ellipse class="w" cx="1042" cy="508" rx="80" ry="94" transform="rotate(8 1042 508)"/>
<ellipse class="l" cx="1047" cy="514" rx="62" ry="74" transform="rotate(8 1047 514)"/>
<path class="l" d="M992,540 C1010,565 1060,575 1102,548"/>
<ellipse class="w" cx="1092" cy="655" rx="58" ry="66" transform="rotate(10 1092 655)"/>
<path class="f" d="M1025,660 L1040,625 L1130,620 L1143,700 L1100,740 L1040,720 Z"/>
<ellipse class="w" cx="1080" cy="682" rx="58" ry="62" transform="rotate(10 1080 682)"/>
<ellipse class="l" cx="1090" cy="692" rx="32" ry="32"/>
<ellipse class="l" cx="1095" cy="698" rx="15" ry="15"/>
<path class="l" d="M1075,672 C1085,660 1105,662 1112,677"/>
<path class="w" d="M1135,930 C1135,920 1160,918 1160,928 L1195,1078 L1172,1085 Z"/>
<path class="t" d="M1137,945 L1162,940 M1139,955 L1164,950 M1141,965 L1166,960 M1143,975 L1168,970"/>
<ellipse class="w" cx="1185" cy="1092" rx="22" ry="20"/>
<path class="t" d="M1165,1085 L1180,1075 L1200,1078 L1207,1092"/></g>
</g>

<g id="misc">
<g transform="translate(0 180) scale(0.26936)"><path class="w" d="M440,700 C445,690 470,682 490,672 L640,598 C655,592 672,598 670,608 C668,616 660,620 650,625 L510,700 C490,712 455,715 445,708 Z"/>
<ellipse class="l" cx="557" cy="653" rx="16" ry="9" transform="rotate(-25 557 653)"/>
<path class="w" d="M477,695 L477,828 C477,833 499,833 499,828 L499,695 Z"/><path class="t" d="M477,761.5 L499,761.5 M477,768.5 L499,768.5 M477,775.5 L499,775.5 M477,782.5 L499,782.5 M477,789.5 L499,789.5 M477,796.5 L499,796.5 M477,803.5 L499,803.5 M477,810.5 L499,810.5 M477,817.5 L499,817.5 M477,824.5 L499,824.5 "/>
<path class="w" d="M615,622 L615,765 C615,770 637,770 637,765 L637,622 Z"/><path class="t" d="M615,693.5 L637,693.5 M615,700.5 L637,700.5 M615,707.5 L637,707.5 M615,714.5 L637,714.5 M615,721.5 L637,721.5 M615,728.5 L637,728.5 M615,735.5 L637,735.5 M615,742.5 L637,742.5 M615,749.5 L637,749.5 M615,756.5 L637,756.5 M615,763.5 L637,763.5 "/>
<path class="w" d="M466.0,677.0 L466.0,692.0 L479.0,700.0 L499.0,698.0 L508.0,689.0 L508.0,675.0 L497.0,667.0 L477.0,668.0 Z"/><path class="t" d="M466.0,677.0 L479.0,684.0 L499.0,683.0 L508.0,675.0 M479.0,684.0 L479.0,700.0 M499.0,683.0 L499.0,698.0"/>
<path class="w" d="M605.0,603.0 L605.0,618.0 L618.0,626.0 L638.0,624.0 L647.0,615.0 L647.0,601.0 L636.0,593.0 L616.0,594.0 Z"/><path class="t" d="M605.0,603.0 L618.0,610.0 L638.0,609.0 L647.0,601.0 M618.0,610.0 L618.0,626.0 M638.0,609.0 L638.0,624.0"/></g>
<g transform="translate(220 630) scale(0.08977)"><path class="w" d="M380,400 L470,340 L540,345 C575,360 590,410 585,470 C580,520 560,545 530,550 L460,565 L395,510 C380,470 378,430 380,400 Z"/>
<path class="l" d="M380,400 L405,420 L490,430 L575,380 M405,420 C412,470 420,520 460,565"/>
<ellipse class="l" cx="530" cy="490" rx="32" ry="52" style="stroke-width:1.8"/>
<ellipse class="l" cx="450" cy="490" rx="10" ry="40" transform="rotate(-10 450 490)"/>
<path class="w" d="M330,745 C360,720 400,700 430,698 L500,740 L540,770 L545,680 C560,620 620,580 660,585 C700,590 725,620 720,650 C700,690 660,700 650,730 L640,820 C620,870 560,885 520,880 C470,870 440,840 430,800 L410,790 L440,760 L400,745 L355,770 Z"/>
<ellipse class="l" cx="640" cy="630" rx="28" ry="17"/>
<path class="l" d="M540,770 C520,780 480,790 450,810 M530,800 L530,880 M575,640 C600,612 650,602 695,620 M650,730 C640,700 660,680 690,665"/>
<ellipse class="w" cx="393" cy="955" rx="55" ry="30"/>
<path class="l" d="M355,945 L362,925 L425,925 L432,945"/>
<ellipse class="w" cx="393" cy="930" rx="34" ry="15"/>
<ellipse class="l" cx="393" cy="957" rx="30" ry="14"/>
<rect x="672" y="778" width="40" height="115" rx="8" fill="#231f20"/>
<ellipse class="w" cx="690" cy="928" rx="50" ry="38"/>
<path class="t" d="M650,915 L670,900 L715,900 L735,918 M650,915 L672,935 L712,935 L735,918"/></g>
</g>

<g id="mid">
<g transform="translate(425 555) scale(0.14360)"><path class="w" d="M520,285 L590,290 L590,312 L520,308 Z M535,286 L535,308 M550,287 L550,309 M565,288 L565,310"/>
<path class="w" d="M600,330 L600,430 L598,450 L605,452 L605,520 L612,535 L635,535 L642,520 L642,452 L650,450 L648,430 L648,330 Z"/>
<path class="t" d="M600,430 L648,430 M598,450 L650,450 M605,505 L642,505 M607,515 L640,515 M609,525 L638,525"/>
<ellipse class="w" cx="612" cy="295" rx="28" ry="42"/>
<ellipse class="w" cx="636" cy="305" rx="20" ry="30"/>
<ellipse class="w" cx="620" cy="625" rx="55" ry="28"/>
<ellipse class="l" cx="620" cy="625" rx="25" ry="12"/>
<path class="w" d="M570,722 L570,760 A50,22 0 0 0 670,760 L670,722 A50,22 0 0 0 570,722 A50,22 0 0 0 670,722"/>
<ellipse class="l" cx="620" cy="720" rx="26" ry="12"/>
<ellipse class="w" cx="868" cy="492" rx="42" ry="34"/>
<path class="t" d="M830,480 L850,462 L885,460 L906,478 L906,500 M830,480 L850,498 L885,497 L906,478"/>
<ellipse class="k" cx="868" cy="478" rx="20" ry="13"/>
<path class="w" d="M350,830 L385,822 C410,825 420,850 412,872 L385,905"/>
<ellipse class="w" cx="365" cy="865" rx="32" ry="42" transform="rotate(-15 365 865)"/>
<ellipse class="l" cx="365" cy="865" rx="17" ry="25" transform="rotate(-15 365 865)"/>
<path class="w" d="M955,180 C960,210 950,250 940,270 L950,350 C970,400 990,440 1000,490 L960,540 L975,570 L1010,610 L970,720 L905,800 L870,810 C850,840 860,880 900,895 C940,905 965,880 965,850 L1060,790 C1100,780 1150,770 1185,740 L1240,820 L1340,870 C1370,880 1395,860 1395,830 L1300,740 L1300,720 L1250,650 L1290,590 L1315,510 C1320,470 1290,455 1262,458 C1230,460 1205,480 1210,510 L1200,575 L1165,520 C1140,430 1100,330 1060,260 L1040,170 L1075,120 C1085,90 1075,55 1040,48 L1000,60 Z"/>
<ellipse class="w" cx="978" cy="125" rx="48" ry="62"/>
<ellipse class="l" cx="978" cy="128" rx="15" ry="24"/>
<path class="l" d="M975,265 L960,270 M1060,260 L1045,250 M985,395 L1050,445 M985,320 C1000,322 1005,340 995,350"/>
<ellipse class="w" cx="1000" cy="535" rx="50" ry="52"/>
<ellipse class="l" cx="1018" cy="547" rx="20" ry="20"/>
<ellipse class="w" cx="1262" cy="500" rx="55" ry="42"/>
<ellipse class="l" cx="1262" cy="500" rx="20" ry="15"/>
<path class="l" d="M1040,600 C1080,560 1150,545 1200,575 C1230,600 1240,640 1235,680 M1040,600 C1020,660 1030,720 1060,760 M1160,640 L1300,720 M1130,720 L1225,805 M1100,640 C1085,690 1095,730 1120,760 M1240,700 C1270,690 1300,710 1300,740 M1070,680 C1060,700 1065,730 1080,745"/>
<path class="l" d="M1280,740 C1254,757 1240,787 1244,808"/>
<path class="l" d="M1300,753 C1274,770 1260,800 1264,821"/>
<path class="l" d="M1320,766 C1294,783 1280,813 1284,834"/>
<path class="l" d="M1340,779 C1314,796 1300,826 1304,847"/>
<path class="l" d="M1360,792 C1334,809 1320,839 1324,860"/>
<ellipse class="l" cx="1370" cy="842" rx="22" ry="38" transform="rotate(32 1370 842)"/>
<path class="l" d="M990,565 L1030,610 L990,720 L950,790 M945,800 C960,810 965,830 965,850 M905,730 C915,720 930,720 940,730 M990,770 C1000,790 1000,800 990,815 M1020,750 C1030,770 1030,785 1020,800"/>
<ellipse class="w" cx="925" cy="855" rx="38" ry="42"/>
<ellipse class="l" cx="928" cy="855" rx="16" ry="20"/></g>
<g transform="translate(425 665) scale(0.14360)"><path class="w" d="M190,200 C195,175 220,150 240,148 C350,190 450,235 560,265 C700,300 820,330 920,350 L1000,360 C1030,370 1040,395 1030,415 C1020,440 990,450 970,470 C940,500 900,530 860,538 C780,520 650,470 520,420 C400,375 280,320 195,285 L188,262 Z"/>
<path class="l" d="M195,262 C300,310 400,350 520,400 C650,450 780,500 860,520 C900,510 940,480 985,445 M290,208 C380,280 500,360 680,415"/>
<ellipse class="l" cx="617" cy="323" rx="22" ry="11"/>
<ellipse class="l" cx="775" cy="362" rx="20" ry="10"/>
<ellipse class="l" cx="705" cy="395" rx="20" ry="11"/>
<ellipse class="w" cx="228" cy="222" rx="42" ry="48"/>
<ellipse class="l" cx="215" cy="232" rx="22" ry="24"/>
<ellipse class="l" cx="210" cy="235" rx="12" ry="13"/>
<ellipse class="w" cx="960" cy="385" rx="55" ry="28"/>
<path class="w" d="M925,378 L930,300 C935,280 985,280 995,300 L1000,378 C985,395 940,395 925,378 Z"/>
<path class="t" d="M930,320 C950,330 975,330 995,320"/>
<g transform="translate(961 285) rotate(-90)"><rect x="0" y="-18.0" width="50" height="36" rx="7.2" fill="#231f20"/></g>
<g transform="translate(60 360) rotate(-32.9)"><rect x="0" y="-17.0" width="77.4" height="34" rx="6.800000000000001" fill="#231f20"/></g>
<ellipse class="w" cx="40" cy="372" rx="30" ry="34" transform="rotate(-30 40 372)"/>
<path class="t" d="M20,355 L55,345 M25,395 L62,385"/>
<path class="w" d="M570,668 L570,706 A50,22 0 0 0 670,706 L670,668 A50,22 0 0 0 570,668 A50,22 0 0 0 670,668"/>
<ellipse class="k" cx="620" cy="666" rx="32" ry="14"/>
<ellipse class="w" cx="620" cy="668" rx="16" ry="7"/>
<ellipse class="w" cx="620" cy="805" rx="52" ry="25"/>
<ellipse class="l" cx="620" cy="805" rx="28" ry="12"/>
<path class="w" d="M580,895 L600,875 L645,875 L665,895 L665,920 L645,940 L600,940 L580,920 Z"/>
<path class="t" d="M580,895 L600,910 L645,910 L665,895 M600,910 L600,940 M645,910 L645,940"/>
<ellipse class="k" cx="622" cy="892" rx="20" ry="11"/></g>
<ellipse class="w" cx="523.6" cy="838.5" rx="8" ry="4.2"/>
<path class="t" d="M518.1,835 L518.6,831.5 L528.6,831.5 L529.1,835 M521.6,838 L521.6,842.5 M525.6,838 L525.6,842.5"/>
<path class="l" d="M518.1,838 L519.1,842.5 L528.1,842.5 L529.1,838"/>
<ellipse class="w" cx="523.6" cy="834.5" rx="5.6" ry="3"/>
<ellipse class="l" cx="523.6" cy="834.5" rx="3" ry="1.6"/>
<ellipse class="w" cx="540.4" cy="838.5" rx="8" ry="4.2"/>
<path class="t" d="M534.9,835 L535.4,831.5 L545.4,831.5 L545.9,835 M538.4,838 L538.4,842.5 M542.4,838 L542.4,842.5"/>
<path class="l" d="M534.9,838 L535.9,842.5 L544.9,842.5 L545.9,838"/>
<ellipse class="w" cx="540.4" cy="834.5" rx="5.6" ry="3"/>
<ellipse class="l" cx="540.4" cy="834.5" rx="3" ry="1.6"/>
<g transform="translate(585 895) scale(0.10627)"><path class="w" d="M255,395 C260,370 290,365 300,355 L330,290 L360,290 C500,340 650,400 800,440 L1040,470 L1080,400 C1100,375 1150,375 1160,400 L1150,470 L1270,510 L1380,520 C1420,520 1430,545 1420,565 C1400,590 1350,600 1320,615 L1210,670 L1130,665 C900,640 600,560 300,500 L280,450 Z"/>
<path class="l" d="M320,345 C450,370 600,450 780,520 M840,535 L1100,565 M1150,572 C1220,580 1290,580 1340,570 C1370,560 1390,545 1395,525 M1100,480 C1100,440 1120,410 1140,400"/>
<path class="l" d="M300,490 C600,555 900,630 1130,650 L1210,655" style="stroke-width:2"/>
<ellipse class="w" cx="868" cy="483" rx="50" ry="28"/>
<ellipse class="k" cx="868" cy="476" rx="28" ry="12"/>
<ellipse class="l" cx="962" cy="500" rx="25" ry="14"/>
<ellipse class="l" cx="1052" cy="512" rx="25" ry="14"/>
<ellipse class="w" cx="330" cy="432" rx="48" ry="38" transform="rotate(20 330 432)"/>
<ellipse class="k" cx="335" cy="435" rx="32" ry="24" transform="rotate(20 335 435)"/>
<ellipse class="w" cx="335" cy="435" rx="12" ry="8" transform="rotate(20 335 435)"/>
<path class="w" d="M1270,520 L1275,470 C1290,450 1360,450 1380,470 L1385,520 C1360,545 1300,545 1270,520 Z"/>
<g transform="translate(1320 465) rotate(-90)"><rect x="0" y="-20.0" width="110" height="40" rx="8.0" fill="#231f20"/></g>
<ellipse class="k" cx="482" cy="185" rx="48" ry="45"/>
<path class="t" style="stroke:#fff" d="M460,175 L500,165 M465,200 L505,190"/>
<g transform="translate(165 705) rotate(-59)"><rect x="0" y="-18.0" width="110.8" height="36" rx="7.2" fill="#231f20"/></g>
<ellipse class="w" cx="140" cy="735" rx="45" ry="40" transform="rotate(-30 140 735)"/>
<path class="t" d="M105,715 L150,700 M115,770 L165,755"/></g>
</g>

<g id="center_top">
<g transform="translate(520 20) scale(0.16155)"><ellipse class="w" cx="322" cy="140" rx="66" ry="43"/>
<ellipse class="w" cx="322" cy="135" rx="66" ry="42"/>
<ellipse class="l" cx="322" cy="136" rx="30" ry="18"/>
<path class="t" d="M296,140 A30,18 0 0 0 348,140"/>
<ellipse class="w" cx="322" cy="305" rx="58" ry="28"/>
<path class="w" d="M286,268 L272,298 L300,320 L344,320 L372,298 L358,268 A36,20 0 0 0 286,268 Z"/>
<ellipse class="w" cx="322" cy="268" rx="36" ry="20"/>
<path class="t" d="M300,286 L300,320 M344,286 L344,320 M286,274 L300,286 L344,286 L358,274"/>
<ellipse class="k" cx="322" cy="268" rx="22" ry="12"/>
<ellipse cx="322" cy="305" rx="56" ry="26" fill="none" stroke="#231f20" stroke-width="1.6" vector-effect="non-scaling-stroke"/>
<ellipse class="w" cx="208" cy="432.8" rx="49.3" ry="23.8"/>
<path class="w" d="M177.4,401.3 L165.5,426.8 L189.3,445.5 L226.7,445.5 L250.5,426.8 L238.6,401.3 A30.6,17 0 0 0 177.4,401.3 Z"/>
<ellipse class="w" cx="208" cy="401.3" rx="30.6" ry="17"/>
<path class="t" d="M189.3,416.6 L189.3,445.5 M226.7,416.6 L226.7,445.5 M177.4,406.4 L189.3,416.6 L226.7,416.6 L238.6,406.4"/>
<ellipse class="k" cx="208" cy="401.3" rx="18.7" ry="10.2"/>
<ellipse cx="208" cy="432.8" rx="47.6" ry="22.1" fill="none" stroke="#231f20" stroke-width="1.6" vector-effect="non-scaling-stroke"/>
<ellipse class="w" cx="470" cy="502.8" rx="49.3" ry="23.8"/>
<path class="w" d="M439.4,471.3 L427.5,496.8 L451.3,515.5 L488.7,515.5 L512.5,496.8 L500.6,471.3 A30.6,17 0 0 0 439.4,471.3 Z"/>
<ellipse class="w" cx="470" cy="471.3" rx="30.6" ry="17"/>
<path class="t" d="M451.3,486.6 L451.3,515.5 M488.7,486.6 L488.7,515.5 M439.4,476.4 L451.3,486.6 L488.7,486.6 L500.6,476.4"/>
<ellipse class="k" cx="470" cy="471.3" rx="18.7" ry="10.2"/>
<ellipse cx="470" cy="502.8" rx="47.6" ry="22.1" fill="none" stroke="#231f20" stroke-width="1.6" vector-effect="non-scaling-stroke"/>
<ellipse class="w" cx="297" cy="550.8" rx="49.3" ry="23.8"/>
<path class="w" d="M266.4,519.3 L254.5,544.8 L278.3,563.5 L315.7,563.5 L339.5,544.8 L327.6,519.3 A30.6,17 0 0 0 266.4,519.3 Z"/>
<ellipse class="w" cx="297" cy="519.3" rx="30.6" ry="17"/>
<path class="t" d="M278.3,534.6 L278.3,563.5 M315.7,534.6 L315.7,563.5 M266.4,524.4 L278.3,534.6 L315.7,534.6 L327.6,524.4"/>
<ellipse class="k" cx="297" cy="519.3" rx="18.7" ry="10.2"/>
<ellipse cx="297" cy="550.8" rx="47.6" ry="22.1" fill="none" stroke="#231f20" stroke-width="1.6" vector-effect="non-scaling-stroke"/>
<path class="w" d="M172,640 C170,615 190,600 215,600 C300,596 400,600 478,610 C500,615 505,635 495,660 C485,690 470,710 440,722 L320,765 C295,772 275,765 260,750 L185,690 C175,675 172,660 172,640 Z"/>
<ellipse class="l" cx="322" cy="680" rx="123" ry="56" transform="rotate(2 322 680)"/>
<ellipse class="l" cx="210" cy="625" rx="12" ry="7"/>
<ellipse class="l" cx="467" cy="633" rx="12" ry="7"/>
<ellipse class="l" cx="293" cy="746" rx="12" ry="7"/>
<ellipse class="w" cx="330" cy="1022" rx="132" ry="56"/>
<ellipse class="l" cx="330" cy="1012" rx="108" ry="44"/>
<path class="w" d="M205,940 L205,1000 A125,50 0 0 0 455,1000 L455,940 Z"/>
<path class="l" d="M205,975 A125,50 0 0 0 455,975"/>
<path class="w" d="M172,880 C170,860 180,845 200,842 C300,830 400,832 470,845 C495,850 500,870 495,890 C485,930 470,950 440,968 L330,1010 C310,1016 290,1012 270,1000 L190,945 C178,930 172,905 172,880 Z"/>
<path class="t" d="M178,925 C190,960 230,990 300,1005"/>
<ellipse class="l" cx="322" cy="905" rx="123" ry="50" transform="rotate(2 322 905)"/>
<ellipse class="l" cx="328" cy="903" rx="48" ry="20"/>
<path class="w" d="M197,860 L197,805 A13,8 0 0 1 223,805 L223,860 A13,7 0 0 1 197,860"/><path class="t" d="M197,819 L223,819 M197,831 L223,831 M197,843 L223,843"/>
<path class="w" d="M457,872 L457,815 A13,8 0 0 1 483,815 L483,872 A13,7 0 0 1 457,872"/><path class="t" d="M457,829 L483,829 M457,841 L483,841 M457,853 L483,853"/>
<path class="w" d="M282,990 L282,925 A13,8 0 0 1 308,925 L308,990 A13,7 0 0 1 282,990"/><path class="t" d="M282,939 L308,939 M282,951 L308,951 M282,963 L308,963"/></g>
</g>

<g id="center_low">
<g transform="translate(510 195) scale(0.16155)"><path class="w" d="M340,118 L292,128 L292,156 L345,146 Z"/>
<ellipse class="w" cx="385" cy="128" rx="52" ry="27"/>
<ellipse class="l" cx="385" cy="128" rx="25" ry="13"/>
<path class="w" d="M185,420 C165,330 260,245 410,240 C570,238 685,300 685,400 C682,450 655,480 625,487 C600,470 570,480 540,510 L495,550 L402,557 C398,540 374,540 370,556 L310,540 C285,520 272,485 250,462 C220,432 190,445 185,420 Z"/>
<ellipse class="l" cx="425" cy="372" rx="215" ry="124"/>
<path class="l" d="M320,345 L320,405 C322,418 330,425 338,428 M445,345 L445,395 C440,405 436,410 436,418"/>
<ellipse class="w" cx="382" cy="340" rx="62" ry="35"/>
<ellipse class="l" cx="382" cy="340" rx="26" ry="14"/>
<path class="l" d="M445,345 L585,310 L470,375 L590,452 M450,385 C455,378 462,375 470,375"/>
<ellipse class="l" cx="500" cy="378" rx="15" ry="9" transform="rotate(-15 500 378)"/>
<path class="l" d="M260,420 C262,385 290,362 320,357"/></g>
<path d="M555.7,314.8 L557.8,314.2 L559.9,313.7 L562.2,313.3 L564.5,313 L566.9,312.7 L569.4,312.5 L571.9,312.4 L574.4,312.3 L576.9,312.3 L579.4,312.5 L581.9,312.6 L584.4,312.9 L586.8,313.3 L589.1,313.7 L591.3,314.2 L593.4,314.7 L595.5,315.3 L597.3,316 L599.1,316.7 L600.7,317.5 L602.1,318.4 L603.4,319.2 L604.5,320.2 L605.4,321.1 L606.1,322.1 L606.6,323.1 L606.9,324.1 L607,325.1 L606.9,326.1 L606.6,327.1 L606.1,328.1 L605.4,329 L604.5,330 L603.5,330.9 L602.2,331.8 L600.8,332.6 L599.2,333.4 L597.5,334.2 L595.6,334.8 L593.6,335.5 L591.5,336 L589.3,336.5 L586.9,336.9 L584.6,337.3 L582.1,337.6 L579.6,337.8 L577.1,337.9 L574.6,337.9 L572.1,338.2 L569.6,338.4 L567.1,338.5 L564.7,338.5 L562.3,338.5 L560.1,338.3 L557.9,338.2 L555.9,337.9 L554,337.6 L552.2,337.2 L550.5,336.8 L549.1,336.3 L547.7,335.8 L546.6,335.3 L545.7,334.7 L544.9,334.1 L544.3,333.4 L544,332.8 L543.8,332.1 L543.8,331.5 L544.1,330.8 L544.5,330.2 L545.2,329.5 L546,328.9 L547,328.4 L548.2,327.8 L549.6,327.3 L551.1,326.9 L552.8,326.5 L554.7,326.1 L556.6,325.8 L558.7,325.6 L560.9,325.4 L563.2,325.4 L565.6,325.3 L568,325.4 L570.5,325.5 L573,325.7 L575.5,326 L578.1,326.4 L580.6,326.9 L583,327.4 L585.5,328 L587.8,328.7 L590.1,329.4 L592.3,330.2 L594.4,331.1 L596.3,332.1 L598.2,333.1 L599.8,334.1 L601.4,335.2 L602.7,336.4 L603.9,337.6 L604.9,338.8 L605.7,340.1 L606.3,341.4 L606.7,342.7 L607,344 L607,345.3 L606.8,346.6 L606.4,347.9 L605.8,349.2 L605,350.4 L604.1,351.7 L602.9,352.9 L601.6,354 L600.1,355.1 L598.4,356.2 L596.6,357.2 L594.7,358.2 L592.6,359.1 L590.5,359.9 L588.2,360.7 L585.9,361.4 L583.4,362 L581,362.5 L578.5,363 L575.9,363.3 L573.4,363.6 L570.9,363.9 L568.4,364 L566,364.1 L563.6,364.1 L561.3,364 L559.1,363.9 L557,363.6 L555,363.4 L553.1,363 L551.4,362.6 L549.8,362.2 L548.4,361.7 L547.2,361.2 L546.1,360.6 L545.3,360 L544.6,359.4 L544.1,358.7 L543.9,358.1 L543.8,357.4 L543.9,356.8 L544.3,356.1 L544.8,355.5 L545.5,354.9 L546.4,354.3 L547.5,353.7 L548.8,353.2 L550.3,352.7 L551.9,352.3 L553.7,351.9 L555.6,351.6 L557.6,351.3 L559.7,351.1 L562,351 L564.3,350.9 L566.7,351 L569.2,351 L571.7,351.2 L574.2,351.5 L576.7,351.8 L579.2,352.2 L581.7,352.7 L584.2,353.2 L586.6,353.9 L588.9,354.6 L591.1,355.4 L593.3,356.2 L595.3,357.1 L597.2,358.1 L599,359.1 L600.6,360.2 L602,361.4 L603.3,362.5 L604.4,363.7 L605.3,365 L606,366.3 L606.5,367.5 L606.9,368.9 L607,370.2 L606.9,371.5 L606.6,372.8 L606.2,374.1 L605.5,375.3 L604.6,376.6 L603.6,377.8 L602.3,379 L600.9,380.1 L599.4,381.2 L597.6,382.3 L595.8,383.3 L593.8,384.2 L591.7,385.1 L589.4,385.9 L587.1,386.6 L584.7,387.2 L582.3,387.8 L579.8,388.3 L577.3,388.7 L574.8,389.1 L572.3,389.4 L569.8,389.6 L567.3,389.7 L564.9,389.7 L562.5,389.7 L560.3,389.5 L558.1,389.4 L556,389.1 L554.1,388.8 L552.3,388.5 L550.7,388 L549.2,387.6 L547.8,387.1 L546.7,386.5 L545.7,385.9 L545,385.3 L544.4,384.7 L544,384 L543.8,383.4 L543.8,382.7 L544.1,382.1 L544.5,381.4 L545.1,380.8 L545.9,380.2 L546.9,379.6 L548.1,379.1 L549.5,378.6 L551,378.1 L552.7,377.7 L554.5,377.3 L556.5,377 L558.6,376.8 L560.8,376.7 L563,376.6 L565.4,376.5 L567.8,376.6 L570.3,376.7 L572.8,376.9 L575.3,377.2 L577.9,377.6 L580.4,378 L582.9,378.5 L585.3,379.1 L587.6,379.8 L589.9,380.5 L592.1,381.4 L594.2,382.2 L596.2,383.2 L598,384.2 L599.7,385.2 L601.3,386.3 L602.6,387.5 L603.8,388.7 L604.8,389.9 L605.7,391.2 L606.3,392.5 L606.7,393.7 L607,395.1 L607,396.4 L606.8,397.7 L606.4,399 L605.9,400.3 L605.1,401.5 L604.2,402.8 L603,404 L601.7,405.1 L600.2,406.2 L598.6,407.3 L596.8,408.3 L594.9,409.3 L592.8,410.2 L590.6,411 L588.4,411.8 L586,412.5 L583.6,413.1 L581.2,413.7 L578.7,414.1 L576.1,414.5 L573.6,414.8 L571.1,415.1 L568.6,415.2 L566.2,415.3 L563.8,415.3 L561.5,415.2 L559.2,415.1 L557.1,414.9 L555.1,414.6 L553.3,414.2 L551.5,413.8 L549.9,413.3 L548.5,412.8 L547.3,412.2 L546.2,411.6 L545.3,411 L544.7,410.4 L544.2,409.7 L543.9,409 L543.8,408.3 L543.9,407.7 L544.2,407 L544.7,406.3 L545.5,405.7 L546.4,405.1 L547.5,404.5 L548.7,403.9 L550.2,403.4 L551.8,402.9 L553.5,402.5 L555.4,402.2 L557.4,401.9 L559.6,401.7 L561.8,401.5 L564.1,401.4 L566.5,401.4 L569,401.5 L571.5,401.6 L574,401.8 L576.5,402.1 L579,402.5 L581.5,402.9 L584,403.5 L586.4,404.1 L588.7,404.7 L591,405.5 L593.1,406.3 L595.1,407.2 L597.1,408.1 L598.8,409.1 L600.4,410.2 L601.9,411.3 L603.2,412.4 L604.3,413.6 L605.2,414.8 L606,416.1 L606.5,417.3 L606.9,418.6 L607,419.9 L606.9,421.2 L606.7,422.5 L606.2,423.7 L605.6,425 L604.7,426.2 L603.7,427.4 L602.4,428.5 L601,429.7 L599.5,430.7 L597.8,431.8 L595.9,432.7 L593.9,433.6 L591.8,434.5 L589.6,435.3 L587.3,436 L584.9,436.6 L582.5,437.2 L580,437.6 L577.5,438 L575,438.4 L572.5,438.4 L570,438.3 L567.5,438.1 L565.1,437.8 L562.7,437.5 L560.4,437.1 L558.3,436.7 L556.2,436.1 L554.2,435.6 L552.4,434.9 L550.8,434.2 L549.3,433.5 L547.9,432.7 L546.8,431.8 L545.8,430.9 L545,430.1 L544.4,429.1 L544,428.2 L543.8,427.3 L543.8,426.3 L544,425.4 L544.4,424.4 L545.1,423.5 L545.9,422.6 L546.8,421.8 L548,420.9 L549.4,420.1 L550.9,419.4 L552.5,418.7 L554.4,418 L556.3,417.5 L558.4,416.9 L560.6,416.5 L562.9,416.1 L565.2,415.8 L567.6,415.5 L570.1,415.4 L572.6,415.3 L575.1,415.3 L577.7,415.3 L580.2,415.5 L582.7,415.7 L585.1,416 L587.5,416.4 L589.8,416.8 L592,417.4 L594.1,417.9 L596,418.6 L597.9,419.3 L599.6,420.1 L601.1,420.9 L602.5,421.7 L603.7,422.6 L604.8,423.6 L605.6,424.5 L606.2,425.5 L606.7,426.5 L606.9,427.6 L607,428.6 L606.8,429.6 L606.5,430.6 L605.9,431.6 L605.2,432.6 L604.2,433.5 L603.1,434.5 L601.8,435.3" fill="none" stroke="#231f20" stroke-width="6.6" stroke-linecap="round" stroke-linejoin="round"/>
<path d="M555.7,314.8 L557.8,314.2 L559.9,313.7 L562.2,313.3 L564.5,313 L566.9,312.7 L569.4,312.5 L571.9,312.4 L574.4,312.3 L576.9,312.3 L579.4,312.5 L581.9,312.6 L584.4,312.9 L586.8,313.3 L589.1,313.7 L591.3,314.2 L593.4,314.7 L595.5,315.3 L597.3,316 L599.1,316.7 L600.7,317.5 L602.1,318.4 L603.4,319.2 L604.5,320.2 L605.4,321.1 L606.1,322.1 L606.6,323.1 L606.9,324.1 L607,325.1 L606.9,326.1 L606.6,327.1 L606.1,328.1 L605.4,329 L604.5,330 L603.5,330.9 L602.2,331.8 L600.8,332.6 L599.2,333.4 L597.5,334.2 L595.6,334.8 L593.6,335.5 L591.5,336 L589.3,336.5 L586.9,336.9 L584.6,337.3 L582.1,337.6 L579.6,337.8 L577.1,337.9 L574.6,337.9 L572.1,338.2 L569.6,338.4 L567.1,338.5 L564.7,338.5 L562.3,338.5 L560.1,338.3 L557.9,338.2 L555.9,337.9 L554,337.6 L552.2,337.2 L550.5,336.8 L549.1,336.3 L547.7,335.8 L546.6,335.3 L545.7,334.7 L544.9,334.1 L544.3,333.4 L544,332.8 L543.8,332.1 L543.8,331.5 L544.1,330.8 L544.5,330.2 L545.2,329.5 L546,328.9 L547,328.4 L548.2,327.8 L549.6,327.3 L551.1,326.9 L552.8,326.5 L554.7,326.1 L556.6,325.8 L558.7,325.6 L560.9,325.4 L563.2,325.4 L565.6,325.3 L568,325.4 L570.5,325.5 L573,325.7 L575.5,326 L578.1,326.4 L580.6,326.9 L583,327.4 L585.5,328 L587.8,328.7 L590.1,329.4 L592.3,330.2 L594.4,331.1 L596.3,332.1 L598.2,333.1 L599.8,334.1 L601.4,335.2 L602.7,336.4 L603.9,337.6 L604.9,338.8 L605.7,340.1 L606.3,341.4 L606.7,342.7 L607,344 L607,345.3 L606.8,346.6 L606.4,347.9 L605.8,349.2 L605,350.4 L604.1,351.7 L602.9,352.9 L601.6,354 L600.1,355.1 L598.4,356.2 L596.6,357.2 L594.7,358.2 L592.6,359.1 L590.5,359.9 L588.2,360.7 L585.9,361.4 L583.4,362 L581,362.5 L578.5,363 L575.9,363.3 L573.4,363.6 L570.9,363.9 L568.4,364 L566,364.1 L563.6,364.1 L561.3,364 L559.1,363.9 L557,363.6 L555,363.4 L553.1,363 L551.4,362.6 L549.8,362.2 L548.4,361.7 L547.2,361.2 L546.1,360.6 L545.3,360 L544.6,359.4 L544.1,358.7 L543.9,358.1 L543.8,357.4 L543.9,356.8 L544.3,356.1 L544.8,355.5 L545.5,354.9 L546.4,354.3 L547.5,353.7 L548.8,353.2 L550.3,352.7 L551.9,352.3 L553.7,351.9 L555.6,351.6 L557.6,351.3 L559.7,351.1 L562,351 L564.3,350.9 L566.7,351 L569.2,351 L571.7,351.2 L574.2,351.5 L576.7,351.8 L579.2,352.2 L581.7,352.7 L584.2,353.2 L586.6,353.9 L588.9,354.6 L591.1,355.4 L593.3,356.2 L595.3,357.1 L597.2,358.1 L599,359.1 L600.6,360.2 L602,361.4 L603.3,362.5 L604.4,363.7 L605.3,365 L606,366.3 L606.5,367.5 L606.9,368.9 L607,370.2 L606.9,371.5 L606.6,372.8 L606.2,374.1 L605.5,375.3 L604.6,376.6 L603.6,377.8 L602.3,379 L600.9,380.1 L599.4,381.2 L597.6,382.3 L595.8,383.3 L593.8,384.2 L591.7,385.1 L589.4,385.9 L587.1,386.6 L584.7,387.2 L582.3,387.8 L579.8,388.3 L577.3,388.7 L574.8,389.1 L572.3,389.4 L569.8,389.6 L567.3,389.7 L564.9,389.7 L562.5,389.7 L560.3,389.5 L558.1,389.4 L556,389.1 L554.1,388.8 L552.3,388.5 L550.7,388 L549.2,387.6 L547.8,387.1 L546.7,386.5 L545.7,385.9 L545,385.3 L544.4,384.7 L544,384 L543.8,383.4 L543.8,382.7 L544.1,382.1 L544.5,381.4 L545.1,380.8 L545.9,380.2 L546.9,379.6 L548.1,379.1 L549.5,378.6 L551,378.1 L552.7,377.7 L554.5,377.3 L556.5,377 L558.6,376.8 L560.8,376.7 L563,376.6 L565.4,376.5 L567.8,376.6 L570.3,376.7 L572.8,376.9 L575.3,377.2 L577.9,377.6 L580.4,378 L582.9,378.5 L585.3,379.1 L587.6,379.8 L589.9,380.5 L592.1,381.4 L594.2,382.2 L596.2,383.2 L598,384.2 L599.7,385.2 L601.3,386.3 L602.6,387.5 L603.8,388.7 L604.8,389.9 L605.7,391.2 L606.3,392.5 L606.7,393.7 L607,395.1 L607,396.4 L606.8,397.7 L606.4,399 L605.9,400.3 L605.1,401.5 L604.2,402.8 L603,404 L601.7,405.1 L600.2,406.2 L598.6,407.3 L596.8,408.3 L594.9,409.3 L592.8,410.2 L590.6,411 L588.4,411.8 L586,412.5 L583.6,413.1 L581.2,413.7 L578.7,414.1 L576.1,414.5 L573.6,414.8 L571.1,415.1 L568.6,415.2 L566.2,415.3 L563.8,415.3 L561.5,415.2 L559.2,415.1 L557.1,414.9 L555.1,414.6 L553.3,414.2 L551.5,413.8 L549.9,413.3 L548.5,412.8 L547.3,412.2 L546.2,411.6 L545.3,411 L544.7,410.4 L544.2,409.7 L543.9,409 L543.8,408.3 L543.9,407.7 L544.2,407 L544.7,406.3 L545.5,405.7 L546.4,405.1 L547.5,404.5 L548.7,403.9 L550.2,403.4 L551.8,402.9 L553.5,402.5 L555.4,402.2 L557.4,401.9 L559.6,401.7 L561.8,401.5 L564.1,401.4 L566.5,401.4 L569,401.5 L571.5,401.6 L574,401.8 L576.5,402.1 L579,402.5 L581.5,402.9 L584,403.5 L586.4,404.1 L588.7,404.7 L591,405.5 L593.1,406.3 L595.1,407.2 L597.1,408.1 L598.8,409.1 L600.4,410.2 L601.9,411.3 L603.2,412.4 L604.3,413.6 L605.2,414.8 L606,416.1 L606.5,417.3 L606.9,418.6 L607,419.9 L606.9,421.2 L606.7,422.5 L606.2,423.7 L605.6,425 L604.7,426.2 L603.7,427.4 L602.4,428.5 L601,429.7 L599.5,430.7 L597.8,431.8 L595.9,432.7 L593.9,433.6 L591.8,434.5 L589.6,435.3 L587.3,436 L584.9,436.6 L582.5,437.2 L580,437.6 L577.5,438 L575,438.4 L572.5,438.4 L570,438.3 L567.5,438.1 L565.1,437.8 L562.7,437.5 L560.4,437.1 L558.3,436.7 L556.2,436.1 L554.2,435.6 L552.4,434.9 L550.8,434.2 L549.3,433.5 L547.9,432.7 L546.8,431.8 L545.8,430.9 L545,430.1 L544.4,429.1 L544,428.2 L543.8,427.3 L543.8,426.3 L544,425.4 L544.4,424.4 L545.1,423.5 L545.9,422.6 L546.8,421.8 L548,420.9 L549.4,420.1 L550.9,419.4 L552.5,418.7 L554.4,418 L556.3,417.5 L558.4,416.9 L560.6,416.5 L562.9,416.1 L565.2,415.8 L567.6,415.5 L570.1,415.4 L572.6,415.3 L575.1,415.3 L577.7,415.3 L580.2,415.5 L582.7,415.7 L585.1,416 L587.5,416.4 L589.8,416.8 L592,417.4 L594.1,417.9 L596,418.6 L597.9,419.3 L599.6,420.1 L601.1,420.9 L602.5,421.7 L603.7,422.6 L604.8,423.6 L605.6,424.5 L606.2,425.5 L606.7,426.5 L606.9,427.6 L607,428.6 L606.8,429.6 L606.5,430.6 L605.9,431.6 L605.2,432.6 L604.2,433.5 L603.1,434.5 L601.8,435.3" fill="none" stroke="#fff" stroke-width="4.0" stroke-linecap="round" stroke-linejoin="round"/>
<path d="M606.9,326.1 L606.6,327.1 L606.1,328.1 L605.4,329 L604.5,330 L603.5,330.9 L602.2,331.8 L600.8,332.6 L599.2,333.4 L597.5,334.2 L595.6,334.8 L593.6,335.5 L591.5,336 L589.3,336.5 L586.9,336.9 L584.6,337.3 L582.1,337.6 L579.6,337.8 L577.1,337.9 L574.6,337.9 L572.1,338.2 L569.6,338.4 L567.1,338.5 L564.7,338.5 L562.3,338.5 L560.1,338.3 L557.9,338.2 L555.9,337.9 L554,337.6 L552.2,337.2 L550.5,336.8 L549.1,336.3 L547.7,335.8 L546.6,335.3 L545.7,334.7 L544.9,334.1 L544.3,333.4 L544,332.8" fill="none" stroke="#231f20" stroke-width="6.6" stroke-linecap="butt" stroke-linejoin="round"/>
<path d="M606.9,324.1 L607,325.1 L606.9,326.1 L606.6,327.1 L606.1,328.1 L605.4,329 L604.5,330 L603.5,330.9 L602.2,331.8 L600.8,332.6 L599.2,333.4 L597.5,334.2 L595.6,334.8 L593.6,335.5 L591.5,336 L589.3,336.5 L586.9,336.9 L584.6,337.3 L582.1,337.6 L579.6,337.8 L577.1,337.9 L574.6,337.9 L572.1,338.2 L569.6,338.4 L567.1,338.5 L564.7,338.5 L562.3,338.5 L560.1,338.3 L557.9,338.2 L555.9,337.9 L554,337.6 L552.2,337.2 L550.5,336.8 L549.1,336.3 L547.7,335.8 L546.6,335.3 L545.7,334.7 L544.9,334.1 L544.3,333.4 L544,332.8 L543.8,332.1 L543.8,331.5" fill="none" stroke="#fff" stroke-width="4.0" stroke-linecap="butt" stroke-linejoin="round"/>
<path d="M606.8,346.6 L606.4,347.9 L605.8,349.2 L605,350.4 L604.1,351.7 L602.9,352.9 L601.6,354 L600.1,355.1 L598.4,356.2 L596.6,357.2 L594.7,358.2 L592.6,359.1 L590.5,359.9 L588.2,360.7 L585.9,361.4 L583.4,362 L581,362.5 L578.5,363 L575.9,363.3 L573.4,363.6 L570.9,363.9 L568.4,364 L566,364.1 L563.6,364.1 L561.3,364 L559.1,363.9 L557,363.6 L555,363.4 L553.1,363 L551.4,362.6 L549.8,362.2 L548.4,361.7 L547.2,361.2 L546.1,360.6 L545.3,360 L544.6,359.4 L544.1,358.7 L543.9,358.1" fill="none" stroke="#231f20" stroke-width="6.6" stroke-linecap="butt" stroke-linejoin="round"/>
<path d="M607,344 L607,345.3 L606.8,346.6 L606.4,347.9 L605.8,349.2 L605,350.4 L604.1,351.7 L602.9,352.9 L601.6,354 L600.1,355.1 L598.4,356.2 L596.6,357.2 L594.7,358.2 L592.6,359.1 L590.5,359.9 L588.2,360.7 L585.9,361.4 L583.4,362 L581,362.5 L578.5,363 L575.9,363.3 L573.4,363.6 L570.9,363.9 L568.4,364 L566,364.1 L563.6,364.1 L561.3,364 L559.1,363.9 L557,363.6 L555,363.4 L553.1,363 L551.4,362.6 L549.8,362.2 L548.4,361.7 L547.2,361.2 L546.1,360.6 L545.3,360 L544.6,359.4 L544.1,358.7 L543.9,358.1 L543.8,357.4 L543.9,356.8" fill="none" stroke="#fff" stroke-width="4.0" stroke-linecap="butt" stroke-linejoin="round"/>
<path d="M606.9,371.5 L606.6,372.8 L606.2,374.1 L605.5,375.3 L604.6,376.6 L603.6,377.8 L602.3,379 L600.9,380.1 L599.4,381.2 L597.6,382.3 L595.8,383.3 L593.8,384.2 L591.7,385.1 L589.4,385.9 L587.1,386.6 L584.7,387.2 L582.3,387.8 L579.8,388.3 L577.3,388.7 L574.8,389.1 L572.3,389.4 L569.8,389.6 L567.3,389.7 L564.9,389.7 L562.5,389.7 L560.3,389.5 L558.1,389.4 L556,389.1 L554.1,388.8 L552.3,388.5 L550.7,388 L549.2,387.6 L547.8,387.1 L546.7,386.5 L545.7,385.9 L545,385.3 L544.4,384.7 L544,384" fill="none" stroke="#231f20" stroke-width="6.6" stroke-linecap="butt" stroke-linejoin="round"/>
<path d="M606.9,368.9 L607,370.2 L606.9,371.5 L606.6,372.8 L606.2,374.1 L605.5,375.3 L604.6,376.6 L603.6,377.8 L602.3,379 L600.9,380.1 L599.4,381.2 L597.6,382.3 L595.8,383.3 L593.8,384.2 L591.7,385.1 L589.4,385.9 L587.1,386.6 L584.7,387.2 L582.3,387.8 L579.8,388.3 L577.3,388.7 L574.8,389.1 L572.3,389.4 L569.8,389.6 L567.3,389.7 L564.9,389.7 L562.5,389.7 L560.3,389.5 L558.1,389.4 L556,389.1 L554.1,388.8 L552.3,388.5 L550.7,388 L549.2,387.6 L547.8,387.1 L546.7,386.5 L545.7,385.9 L545,385.3 L544.4,384.7 L544,384 L543.8,383.4 L543.8,382.7" fill="none" stroke="#fff" stroke-width="4.0" stroke-linecap="butt" stroke-linejoin="round"/>
<path d="M606.8,397.7 L606.4,399 L605.9,400.3 L605.1,401.5 L604.2,402.8 L603,404 L601.7,405.1 L600.2,406.2 L598.6,407.3 L596.8,408.3 L594.9,409.3 L592.8,410.2 L590.6,411 L588.4,411.8 L586,412.5 L583.6,413.1 L581.2,413.7 L578.7,414.1 L576.1,414.5 L573.6,414.8 L571.1,415.1 L568.6,415.2 L566.2,415.3 L563.8,415.3 L561.5,415.2 L559.2,415.1 L557.1,414.9 L555.1,414.6 L553.3,414.2 L551.5,413.8 L549.9,413.3 L548.5,412.8 L547.3,412.2 L546.2,411.6 L545.3,411 L544.7,410.4 L544.2,409.7 L543.9,409" fill="none" stroke="#231f20" stroke-width="6.6" stroke-linecap="butt" stroke-linejoin="round"/>
<path d="M607,395.1 L607,396.4 L606.8,397.7 L606.4,399 L605.9,400.3 L605.1,401.5 L604.2,402.8 L603,404 L601.7,405.1 L600.2,406.2 L598.6,407.3 L596.8,408.3 L594.9,409.3 L592.8,410.2 L590.6,411 L588.4,411.8 L586,412.5 L583.6,413.1 L581.2,413.7 L578.7,414.1 L576.1,414.5 L573.6,414.8 L571.1,415.1 L568.6,415.2 L566.2,415.3 L563.8,415.3 L561.5,415.2 L559.2,415.1 L557.1,414.9 L555.1,414.6 L553.3,414.2 L551.5,413.8 L549.9,413.3 L548.5,412.8 L547.3,412.2 L546.2,411.6 L545.3,411 L544.7,410.4 L544.2,409.7 L543.9,409 L543.8,408.3 L543.9,407.7" fill="none" stroke="#fff" stroke-width="4.0" stroke-linecap="butt" stroke-linejoin="round"/>
<path d="M606.9,421.2 L606.7,422.5 L606.2,423.7 L605.6,425 L604.7,426.2 L603.7,427.4 L602.4,428.5 L601,429.7 L599.5,430.7 L597.8,431.8 L595.9,432.7 L593.9,433.6 L591.8,434.5 L589.6,435.3 L587.3,436 L584.9,436.6 L582.5,437.2 L580,437.6 L577.5,438 L575,438.4 L572.5,438.4 L570,438.3 L567.5,438.1 L565.1,437.8 L562.7,437.5 L560.4,437.1 L558.3,436.7 L556.2,436.1 L554.2,435.6 L552.4,434.9 L550.8,434.2 L549.3,433.5 L547.9,432.7 L546.8,431.8 L545.8,430.9 L545,430.1 L544.4,429.1 L544,428.2" fill="none" stroke="#231f20" stroke-width="6.6" stroke-linecap="butt" stroke-linejoin="round"/>
<path d="M606.9,418.6 L607,419.9 L606.9,421.2 L606.7,422.5 L606.2,423.7 L605.6,425 L604.7,426.2 L603.7,427.4 L602.4,428.5 L601,429.7 L599.5,430.7 L597.8,431.8 L595.9,432.7 L593.9,433.6 L591.8,434.5 L589.6,435.3 L587.3,436 L584.9,436.6 L582.5,437.2 L580,437.6 L577.5,438 L575,438.4 L572.5,438.4 L570,438.3 L567.5,438.1 L565.1,437.8 L562.7,437.5 L560.4,437.1 L558.3,436.7 L556.2,436.1 L554.2,435.6 L552.4,434.9 L550.8,434.2 L549.3,433.5 L547.9,432.7 L546.8,431.8 L545.8,430.9 L545,430.1 L544.4,429.1 L544,428.2 L543.8,427.3 L543.8,426.3" fill="none" stroke="#fff" stroke-width="4.0" stroke-linecap="butt" stroke-linejoin="round"/>
<path d="M606.8,429.6 L606.5,430.6 L605.9,431.6 L605.2,432.6 L604.2,433.5" fill="none" stroke="#231f20" stroke-width="6.6" stroke-linecap="butt" stroke-linejoin="round"/>
<path d="M606.9,427.6 L607,428.6 L606.8,429.6 L606.5,430.6 L605.9,431.6 L605.2,432.6 L604.2,433.5 L603.1,434.5 L601.8,435.3" fill="none" stroke="#fff" stroke-width="4.0" stroke-linecap="butt" stroke-linejoin="round"/>
<g transform="translate(630 240) scale(0.16155)"><path class="w" d="M225,250 L225,575 C225,600 280,628 342,628 C405,628 460,600 460,575 L460,250 C455,225 440,215 435,205 L435,170 L250,170 L250,205 C245,215 230,225 225,250 Z"/>
<path class="l" d="M225,255 C235,300 450,300 460,255"/>
<path class="l" d="M225,293.5 C235,338.5 450,338.5 460,293.5"/>
<path class="l" d="M225,332.0 C235,377.0 450,377.0 460,332.0"/>
<path class="l" d="M225,370.5 C235,415.5 450,415.5 460,370.5"/>
<path class="l" d="M225,409.0 C235,454.0 450,454.0 460,409.0"/>
<path class="l" d="M225,447.5 C235,492.5 450,492.5 460,447.5"/>
<path class="l" d="M225,486.0 C235,531.0 450,531.0 460,486.0"/>
<path class="l" d="M225,524.5 C235,569.5 450,569.5 460,524.5"/>
<path class="l" d="M225,563.0 C235,608.0 450,608.0 460,563.0"/>
<path class="l" d="M250,205 C260,255 425,255 435,205 M275,195 C300,225 390,225 410,195"/>
<path class="t" d="M250,600 C290,640 395,640 435,600"/>
<path class="w" d="M277,130 L277,160 C290,190 395,190 407,160 L407,130"/>
<path class="w" d="M262,100 L262,128 A80,30 0 0 0 422,128 L422,100 A80,30 0 0 0 262,100 A80,30 0 0 0 422,100"/>
<ellipse class="l" cx="342" cy="96" rx="20" ry="8"/></g>
<g transform="translate(630 380) scale(0.13459)"><path class="w" d="M387,-150 L387,-95 L376,-85 L376,165 L444,165 L444,-85 L433,-95 L433,-150 C433,-160 387,-160 387,-150 Z"/>
<path class="t" d="M387,-132 L433,-132 M387,-112 L433,-112 M387,-95 L433,-95"/>
<ellipse class="w" cx="410" cy="165" rx="88" ry="40"/>
<path class="w" d="M376,120 L376,178 C385,190 435,190 444,178 L444,120 Z"/>
<path class="w" d="M330,295 C240,310 155,350 155,410 C155,480 270,540 430,540 C590,540 710,470 710,380 L700,320 C670,320 645,310 640,290 C635,260 620,245 600,240 L530,230 L492,265 Z"/>
<path class="t" d="M165,440 C200,510 320,550 440,548"/>
<ellipse class="l" cx="430" cy="395" rx="215" ry="105"/>
<path class="w" d="M330,235 L330,440 C340,470 480,470 492,440 L492,235 Z"/>
<ellipse class="w" cx="411" cy="235" rx="81" ry="26"/>
<path class="w" d="M355,205 C365,235 455,235 465,205 L465,190 C455,215 365,215 355,190 Z"/>
<path class="l" d="M355,190 C350,170 470,170 465,190"/>
<path class="w" d="M330,540 L330,765 L492,765 L492,535 Z"/>
<path class="l" d="M330,545 C380,552 440,550 492,538"/>
<path class="w" d="M322,765 L322,1020 C330,1045 350,1050 380,1050 L470,1048 L545,1075 C560,1060 560,1040 590,1020 C610,1000 610,970 598,945 C585,925 600,900 600,870 C610,830 600,790 575,768 L525,755 L492,765 C470,775 440,780 410,778 C380,778 340,775 322,765 Z"/>
<path class="l" d="M405,780 L400,880 L385,885 L380,830 L345,825 M460,840 L460,1030 M492,765 L560,800 C575,830 565,860 550,880 C530,900 540,940 545,960 C560,990 545,1030 545,1075"/>
<ellipse class="l" cx="345" cy="853" rx="16" ry="12"/>
<ellipse class="l" cx="517" cy="866" rx="16" ry="12"/>
<ellipse class="l" cx="563" cy="822" rx="13" ry="11"/>
<ellipse class="l" cx="562" cy="975" rx="13" ry="11"/>
<ellipse class="l" cx="517" cy="1022" rx="16" ry="12"/>
<path class="w" d="M497,735 L497,758 L522,752 L522,730 Z"/>
<path class="l" d="M322,960 C280,960 230,920 200,870 L140,818 L200,770 C230,755 265,760 280,790 C290,820 290,850 322,865 M200,785 C215,790 225,800 228,812 C225,825 210,835 195,838"/>
<g transform="translate(728 548) rotate(119.4)"><rect x="30" y="-27" width="133" height="54" rx="6" fill="#231f20"/><ellipse cx="159" cy="0" rx="8" ry="18" fill="#fff"/><path class="w" d="M-30,-22 L-10,-44 L28,-48 L44,-30 L44,30 L28,48 L-10,44 L-30,22 Z"/><path class="t" d="M-10,-44 L2,-20 L2,20 L-10,44 M2,-20 L44,-30 M2,20 L44,30 M-30,-22 L-18,-8 L-18,8 L-30,22 M-18,-8 L2,-20 M-18,8 L2,20"/></g>
<g transform="translate(812 622) rotate(121.6)"><rect x="30" y="-27" width="122.6" height="54" rx="6" fill="#231f20"/><ellipse cx="148.6" cy="0" rx="8" ry="18" fill="#fff"/><path class="w" d="M-30,-22 L-10,-44 L28,-48 L44,-30 L44,30 L28,48 L-10,44 L-30,22 Z"/><path class="t" d="M-10,-44 L2,-20 L2,20 L-10,44 M2,-20 L44,-30 M2,20 L44,30 M-30,-22 L-18,-8 L-18,8 L-30,22 M-18,-8 L2,-20 M-18,8 L2,20"/></g></g>
</g>

<g id="rear1">
<g transform="translate(730 575) scale(0.16250)"><path class="w" d="M540,215 C600,130 700,70 780,75 L830,110 L800,180 L790,165 L700,160 L690,170 L650,160 L570,250 Z"/>
<path class="l" d="M580,220 C620,170 670,140 700,135 M760,100 L775,130 L750,150 M780,75 C800,60 840,60 850,90"/>
<path class="w" d="M600,290 C560,350 545,420 570,470 C590,500 600,540 590,580 L620,590 L640,650 L690,680 L700,300 Z"/>
<path class="l" d="M610,310 C580,360 575,420 595,470 M640,330 C660,300 690,310 690,340 C695,380 690,440 685,500 M625,370 C630,420 625,470 640,500 M660,370 L660,480 M620,520 C650,500 670,520 660,540 M615,560 C640,545 660,560 650,580 M610,600 L615,640"/>
<ellipse class="w" cx="630" cy="335" rx="28" ry="35"/>
<path class="l" d="M630,300 C650,295 668,305 665,335 C665,360 650,372 630,370"/>
<path class="w" d="M505,585 C540,600 570,590 590,580 L620,590 C590,610 585,640 600,660 L680,685 C620,690 540,650 505,585 Z"/>
<path class="l" d="M530,595 C560,640 610,670 650,678"/>
<path class="w" d="M685,200 L690,170 L700,160 L790,165 L800,180 L805,250 L780,300 L800,385 L840,395 C880,500 920,600 965,680 L1040,795 L830,830 L790,880 L700,815 L690,800 L700,300 Z"/>
<path class="l" d="M685,200 C690,250 705,290 720,330 L745,390 L800,385 M710,180 L718,800 M745,390 L735,780 M690,170 L710,180 L800,180 M760,190 L765,290 L780,300"/>
<path class="l" d="M790,420 C770,425 765,445 780,455 M800,540 C775,545 770,570 790,580"/>
<path class="l" d="M805,650 C830,635 870,650 900,690 C915,715 905,745 880,750 C850,755 815,735 795,700 C785,680 790,660 805,650 Z"/>
<path class="l" d="M822,668 C840,660 865,672 882,700 C890,718 880,730 865,730 C845,732 825,715 815,695 C810,682 812,672 822,668 Z"/>
<path class="l" d="M840,400 C870,480 900,560 940,640 L985,690 L1000,735 M965,680 L1000,690 L1160,760 L1120,790"/>
<path class="w" d="M850,90 C900,55 950,70 990,95 C1100,80 1250,110 1290,200 C1320,240 1360,260 1372,282 L1340,312 L1240,342 C1100,362 950,332 900,282 C880,250 890,180 880,140 C870,110 850,100 850,90 Z"/>
<ellipse class="l" cx="1090" cy="198" rx="165" ry="88"/>
<path class="l" d="M945,228 C1000,178 1180,178 1238,224"/>
<path class="l" d="M888,270 C950,352 1150,374 1330,322 M1290,200 C1300,240 1290,270 1270,290"/>
<ellipse class="w" cx="832" cy="148" rx="22" ry="30"/>
<path class="l" d="M832,118 L858,115 C872,120 875,165 860,175 L832,178"/>
<ellipse class="l" cx="855" cy="146" rx="12" ry="20"/>
<path class="w" d="M1205,380 L1290,352 L1345,318 C1370,320 1380,345 1365,365 L1330,390 L1300,440 L1215,460 Z"/>
<ellipse class="w" cx="1205" cy="420" rx="25" ry="40" transform="rotate(-12 1205 420)"/>
<path class="l" d="M1250,368 C1272,380 1275,430 1258,450 M1290,352 C1310,365 1312,410 1300,440 M1300,395 L1340,385"/>
<ellipse class="l" cx="1352" cy="340" rx="20" ry="28" transform="rotate(-15 1352 340)"/>
<path class="l" d="M1380,262 C1400,250 1440,255 1450,275 C1430,295 1400,300 1380,290"/>
<path class="w" d="M845,350 C870,330 920,340 960,380 L1000,420 L1040,440 L1045,500 L1010,555 L960,560 C900,520 860,430 845,350 Z"/>
<path class="l" d="M862,345 C826,397.5 860.4,427.5 900,470"/>
<path class="l" d="M890,350 C850,415.0 886.0,445.0 930,500"/>
<path class="l" d="M925,375 C889,442.5 915.4,472.5 955,530"/>
<path class="l" d="M960,400 C928,462.5 939.8,492.5 975,545"/>
<path class="l" d="M990,425 C966,477.5 968.6,507.5 995,550"/>
<path class="l" d="M1020,445 C1000,485.0 993.0,515.0 1015,545"/>
<path class="l" d="M960,400 C975,395 990,400 1000,420 M1000,425 C1015,425 1035,432 1040,442"/>
<path class="w" d="M1030,490 L1290,598 L1282,628 L1022,522 Z"/>
<path class="w" d="M1285,590 C1300,580 1330,585 1350,590 C1400,575 1450,590 1500,600 L1520,740 L1450,750 C1400,720 1320,690 1285,650 Z"/>
<path class="l" d="M1300,585 C1275,612.5 1282,642.5 1310,670"/>
<path class="l" d="M1330,585 C1305,625.0 1317,655.0 1345,695"/>
<path class="l" d="M1365,580 C1340,632.5 1357,662.5 1385,715"/>
<path class="l" d="M1400,585 C1375,642.5 1397,672.5 1425,730"/>
<path class="l" d="M1440,590 C1415,652.5 1434,682.5 1462,745"/>
<path class="l" d="M1475,598 C1450,658.0 1467,688.0 1495,748"/>
<path class="f" d="M1490,640 C1520,610 1570,600 1610,610 L1610,800 C1560,800 1510,780 1490,740 Z"/>
<path class="l" d="M1610,610 C1570,600 1520,610 1490,640 L1490,740 C1510,780 1560,800 1610,800"/>
<path class="l" d="M1530,640 C1510,690 1520,750 1550,790 M1565,625 C1545,680 1555,760 1590,795 M1490,680 L1520,690 L1515,760 M1500,700 L1500,745 M1525,700 L1528,712 M1524,722 L1527,734"/>
<path class="f" d="M45,905 L60,890 L150,885 L320,860 L450,850 C520,850 560,820 700,815 L790,880 L945,940 L1230,880 C1290,850 1350,800 1420,790 C1500,780 1560,830 1610,880 L1610,1110 L1540,1100 C1480,1040 1440,980 1400,955 C1340,940 1300,960 1240,985 L1100,1040 L1060,1020 L940,975 C900,955 860,960 810,935 C700,930 620,940 560,960 C480,1000 400,1040 300,1055 L200,1040 L130,1020 L45,985 Z"/>
<path class="l" d="M1420,790 C1350,800 1290,850 1230,880 L945,940 L790,880 L700,815 C560,820 520,850 450,850 L320,860 L150,885 L60,890 L45,905 L45,985 L130,1020 L200,1040 L300,1055 C400,1040 480,1000 560,960 C620,940 700,930 810,935 C860,960 900,955 940,975 L1060,1020 L1100,1040 L1240,985 C1300,960 1340,940 1400,955 C1430,975 1450,1000 1470,1030"/>
<path class="l" d="M45,905 L100,945 L100,1010 M100,945 L150,935 M130,1020 L130,955 M190,1040 L190,965 L150,960"/>
<path class="l" d="M270,965 C330,985 420,960 480,920 C540,880 620,860 700,855 L780,905 L810,935 M270,1025 C350,1030 400,1010 470,980 C540,950 620,925 790,920 M360,895 C380,920 400,915 410,900 M490,940 C500,920 530,915 540,930 M945,940 L950,975 M790,880 L830,830 M1060,1020 L1065,990"/>
<path class="w" d="M470,720 L580,715 L585,740 L600,740 L600,810 L690,805 L700,815 C620,815 540,835 455,850 L440,790 C435,760 440,730 470,720 Z"/>
<path class="l" d="M520,730 L525,838 M425,850 L445,795"/>
<ellipse class="w" cx="455" cy="765" rx="22" ry="28"/>
<path class="l" d="M455,737 L478,735 C492,740 495,780 482,792 L455,793"/>
<path class="w" d="M150,870 L152,905 C170,938 280,948 318,902 L320,868 Z"/>
<ellipse class="w" cx="235" cy="868" rx="85" ry="52"/>
<ellipse class="l" cx="233" cy="866" rx="52" ry="30"/>
<ellipse class="l" cx="233" cy="866" rx="27" ry="15"/>
<path class="w" d="M830,830 L1040,795 L1100,850 L1240,800 L1290,742 L1310,760 L1420,790 C1350,800 1290,850 1230,880 L945,940 L790,880 Z"/>
<path class="l" d="M860,830 C950,872 1050,872 1130,850 L1250,792 M1360,830 C1300,850 1270,880 1230,905 M1360,960 C1380,940 1400,940 1420,955"/></g>
</g>

<g id="rear2">
<g transform="translate(950 590) scale(0.16250)"><path class="l" d="M0,170 L100,175 L130,200 L150,240 L100,350 L70,450 M0,270 L70,450 M30,210 L100,350 M185,205 L150,240"/>
<path class="l" d="M360,215 C420,280 480,330 560,370 C620,400 660,410 680,440 C750,470 800,490 830,490 C900,510 1000,540 1080,545 C1120,550 1150,560 1175,575"/>
<path class="l" d="M290,295 L1030,610 M300,312 L1022,630"/>
<path class="l" d="M290,295 C260,300 230,310 215,340 C200,400 205,450 200,505 M300,340 C260,380 240,440 230,505"/>
<path class="l" d="M355,605 L510,600 L540,610 C620,640 700,680 760,700 C820,740 900,850 985,965 M355,635 L530,630 C620,660 720,700 760,722 C820,770 880,860 962,985"/>
<path class="l" d="M1030,610 L1060,640 L1050,700 L1000,1000 M1085,600 L1150,590"/>
<path class="w" d="M180,188 C185,245 350,255 364,188 Z"/>
<ellipse class="w" cx="272" cy="185" rx="92" ry="55"/>
<ellipse class="l" cx="272" cy="182" rx="62" ry="34"/>
<path class="w" d="M237,165 L237,192 C245,208 300,208 307,192 L307,165"/>
<ellipse class="w" cx="272" cy="165" rx="35" ry="18"/>
<path class="w" d="M548,485 L588,480 C623,485 628,565 598,580 L548,585 Z"/><ellipse class="w" cx="548" cy="535" rx="35" ry="50"/><ellipse class="l" cx="548" cy="535" rx="17" ry="26"/>
<path class="w" d="M765,565 L805,560 C840,565 845,645 815,660 L765,665 Z"/><ellipse class="w" cx="765" cy="615" rx="35" ry="50"/><ellipse class="l" cx="765" cy="615" rx="17" ry="26"/>
<path class="w" d="M1172,595 L1175,625 C1200,665 1320,665 1345,625 L1348,595 Z"/>
<ellipse class="w" cx="1260" cy="595" rx="88" ry="48"/>
<ellipse class="l" cx="1260" cy="593" rx="57" ry="29"/>
<ellipse class="l" cx="1260" cy="593" rx="30" ry="14"/>
<path class="t" d="M1185,620 C1210,650 1310,650 1338,618"/>
<path class="l" d="M1345,605 C1400,590 1450,600 1480,590 L1530,595 L1535,650 L1480,670 C1420,680 1380,700 1350,740 L1340,760 L1280,770 M1350,652 C1400,642 1450,640 1500,620 M1530,640 L1500,640 M1340,735 C1400,695 1450,682 1525,660"/>
<path class="l" d="M1175,640 L1140,680 L1080,740 L1100,800 L1110,880 L1100,1000 M1283,680 C1292,720 1280,760 1250,800 L1150,960 L1080,1060 M1178,642 C1200,660 1222,700 1215,760 L1130,900"/>
<ellipse class="l" cx="1180" cy="745" rx="15" ry="22" transform="rotate(10 1180 745)"/>
<ellipse class="l" cx="1245" cy="712" rx="15" ry="22" transform="rotate(10 1245 712)"/>
<path class="w" d="M0,490 C40,470 100,480 150,500 L240,520 L330,560 L350,640 L300,750 L220,745 L100,680 L0,650 Z"/>
<path class="l" d="M20,487.0 C-10,540 0,620 45,663.0"/>
<path class="l" d="M55,490.5 C25,540 35,620 80,668.25"/>
<path class="l" d="M95,494.5 C65,540 75,620 120,674.25"/>
<path class="l" d="M120,500 C100,560 110,640 150,700 M150,505 L160,520 L150,690 M130,580 L165,590 L160,690 M175,600 L175,660 M300,525 L340,560 M310,540 L320,550 M325,555 L335,565"/>
<ellipse class="w" cx="275" cy="640" rx="78" ry="108" transform="rotate(14 275 640)"/>
<ellipse class="l" cx="280" cy="640" rx="52" ry="75" transform="rotate(14 280 640)"/>
<ellipse class="l" cx="288" cy="645" rx="30" ry="42" transform="rotate(14 288 645)"/>
<path class="l" d="M290,620 C310,620 320,640 312,660 M280,660 L300,690"/>
<path class="l" d="M1000,965 C960,1000 900,1060 860,1110 M1045,1000 C1000,1040 960,1080 940,1110"/></g>
<g transform="translate(930 730) scale(0.16250)"><path class="l" d="M1040,0 C1100,60 1120,100 1130,120 M1130,0 L1142,100 M1240,0 C1240,100 1220,200 1180,290 M1330,0 C1330,120 1290,230 1220,300"/>
<path class="l" d="M730,345 C800,320 860,330 900,320 C960,280 1020,200 1090,140 C1120,110 1160,110 1180,130 L1190,160 L1150,160 M740,345 L715,400 L720,490 L735,520 L700,590"/>
<path class="l" d="M720,402 C780,392 850,412 900,382 C960,332 1020,262 1080,215"/>
<path class="l" d="M1090,190 C1110,170 1170,180 1180,220 C1180,250 1160,290 1130,320 L1060,400 L960,520"/>
<ellipse class="l" cx="1130" cy="233" rx="18" ry="18"/>
<path class="l" d="M1150,300 L1200,305 L1205,440 L1160,460 Z M1120,340 L1150,340 M1160,460 L1130,495 L1085,480 L1060,430 L1040,470 L1020,480"/>
<ellipse class="l" cx="1125" cy="450" rx="18" ry="18"/>
<path class="w" d="M870,495 L920,495 L960,520 L960,570 L940,610 C900,650 890,700 870,740 C880,800 900,850 925,880 L900,920 L840,940 L830,990 L740,1020 L710,1020 L690,980 L640,950 L610,900 L600,860 L625,790 L640,740 L620,700 L640,640 L700,590 L820,580 L860,510 Z"/>
<path class="l" d="M870,495 L860,520 L905,525 L920,495 M700,680 C740,650 800,665 830,660 M640,740 C660,700 690,690 720,690 M820,700 C840,760 850,800 880,850 M700,590 L690,640 L660,680 M610,880 L650,900 L690,960"/>
<ellipse class="l" cx="915" cy="550" rx="12" ry="20"/>
<ellipse class="l" cx="868" cy="608" rx="18" ry="18"/>
<ellipse class="l" cx="740" cy="722" rx="18" ry="14"/>
<ellipse class="l" cx="640" cy="655" rx="12" ry="15"/>
<ellipse class="l" cx="628" cy="690" rx="12" ry="15"/>
<path class="w" d="M655,800 L660,842 C700,882 800,882 835,842 L835,800 Z"/>
<ellipse class="w" cx="745" cy="800" rx="90" ry="48"/>
<ellipse class="l" cx="745" cy="800" rx="65" ry="33"/>
<ellipse class="l" cx="745" cy="800" rx="32" ry="15"/>
<path class="w" d="M720,900 L830,895 L835,980 L745,1000 L720,990 Z"/>
<path class="l" d="M745,920 L800,918 L800,975 L745,985 Z M720,900 L745,920"/></g>
<g transform="translate(900 680) scale(0.16250)"><path class="l" d="M380,178 C470,215 580,250 650,310 C750,410 830,530 905,640"/>
<path class="l" d="M300,205 C350,200 400,215 440,240 C520,280 580,330 630,390 C700,470 760,560 812,662"/>
<path class="l" d="M430,292 C520,330 620,440 695,568 L812,664 L705,600"/>
<path class="l" d="M300,290 C330,290 360,308 370,320 C390,350 420,360 440,400 L480,420 C540,470 580,520 610,570 L650,580 C700,640 760,760 840,850 C870,880 890,892 902,880"/>
<path class="l" d="M480,332 C560,400 640,500 700,600 C760,700 820,800 888,850"/>
<path class="l" d="M0,290 C80,250 180,215 300,205 M20,370 L50,395 L180,300 C220,285 260,290 300,290 M240,130 C300,118 345,135 380,178"/>
<path class="l" d="M1520,300 C1500,420 1450,540 1400,612 M1590,200 L1540,300 C1520,420 1480,520 1420,602"/></g>
</g>

<g id="rear3">
<g transform="translate(880 790) scale(0.21542)"><path d="M175,270 L250,272 C300,275 330,300 345,340 C370,400 380,480 400,560 C415,610 450,640 500,650 C520,650 530,640 540,615 C550,585 560,560 580,548 C600,540 620,548 640,560 C680,580 700,600 705,625 C708,660 730,690 760,710 L1080,940 C1100,952 1115,956 1140,955 C1180,952 1260,935 1360,912" fill="none" stroke="#231f20" stroke-width="7.8" stroke-linejoin="round" vector-effect="non-scaling-stroke"/>
<path d="M175,270 L250,272 C300,275 330,300 345,340 C370,400 380,480 400,560 C415,610 450,640 500,650 C520,650 530,640 540,615 C550,585 560,560 580,548 C600,540 620,548 640,560 C680,580 700,600 705,625 C708,660 730,690 760,710 L1080,940 C1100,952 1115,956 1140,955 C1180,952 1260,935 1360,912" fill="none" stroke="#fff" stroke-width="5.0" stroke-linejoin="round" vector-effect="non-scaling-stroke"/>
<path class="w" d="M1345,898 C1380,888 1440,888 1470,890 L1495,915 L1490,935 C1440,930 1390,930 1350,928 Z"/>
<path class="l" d="M1350,912 C1380,900 1440,898 1470,900"/>
<path class="w" d="M95,240 L130,230 C140,190 200,150 240,105 L280,78 L320,92 L318,110 L255,128 C220,160 190,190 175,215 L225,195 L230,215 L185,238 L190,260 C185,290 165,305 150,300 C125,290 120,265 125,245 Z"/>
<path class="l" d="M130,230 L175,215 M240,105 L255,128 M170,215 C160,240 160,270 170,295 M120,240 L95,248"/>
<ellipse class="l" cx="280" cy="97" rx="9" ry="7"/>
<ellipse class="l" cx="202" cy="208" rx="8" ry="7"/>
<path class="w" d="M725,885 L765,860 L800,875 C815,900 818,935 808,962 L770,965 L730,945 C720,925 720,900 725,885 Z"/>
<path class="l" d="M765,860 L772,895 C765,920 765,945 770,965 M772,895 C790,885 805,890 812,905"/>
<ellipse class="l" cx="797" cy="938" rx="12" ry="17"/>
<path class="w" d="M905,990 L910,970 C925,955 955,955 965,968 L950,985 L950,1035 C945,1050 920,1058 895,1050 L870,1025 L845,1018 C840,1005 860,995 885,1000 L905,1010 Z"/>
<path class="l" d="M905,990 L905,1040 M950,985 C935,995 920,995 905,990"/>
<ellipse class="l" cx="940" cy="968" rx="14" ry="7" transform="rotate(-10 940 968)"/>
<ellipse class="l" cx="868" cy="1010" rx="14" ry="7" transform="rotate(10 868 1010)"/></g>
<g transform="translate(1095 790) scale(0.12500)"><path class="w" d="M420,200 C425,160 470,130 510,140 C545,150 560,175 552,195 L760,265 C900,320 1100,400 1285,545 C1330,530 1390,545 1410,580 L1395,625 C1390,670 1330,715 1270,715 C1180,705 1050,665 950,650 C850,640 750,650 600,665 C500,670 350,660 265,620 L160,600 L150,545 C160,505 210,470 250,480 C285,490 295,515 292,536 L400,550 C430,555 450,545 460,530 L600,320 L640,265 L545,235 L520,270 L440,260 Z"/>
<path class="l" d="M280,578 C350,602 450,602 560,590 C700,570 800,555 900,555 C1000,560 1150,600 1275,628 M560,215 L640,245"/>
<path class="l" d="M745,320 C800,300 900,340 1000,410 C1060,450 1100,490 1085,510 C1060,530 960,490 880,435 M745,320 C735,345 760,370 800,385 C830,390 850,400 850,418"/>
<ellipse class="l" cx="765" cy="428" rx="45" ry="33"/>
<ellipse class="l" cx="765" cy="428" rx="25" ry="18"/>
<ellipse class="l" cx="735" cy="278" rx="25" ry="12" transform="rotate(10 735 278)"/>
<ellipse class="w" cx="478" cy="228" rx="62" ry="45" transform="rotate(22 478 228)"/>
<ellipse class="l" cx="480" cy="232" rx="32" ry="20" transform="rotate(22 480 232)"/>
<ellipse class="l" cx="480" cy="232" rx="22" ry="13" transform="rotate(22 480 232)"/>
<ellipse class="w" cx="208" cy="575" rx="65" ry="45" transform="rotate(22 208 575)"/>
<ellipse class="k" cx="205" cy="578" rx="36" ry="23" transform="rotate(22 205 578)"/>
<ellipse class="w" cx="205" cy="578" rx="18" ry="10" transform="rotate(22 205 578)"/>
<ellipse class="w" cx="1338" cy="582" rx="75" ry="45"/>
<path class="w" d="M1325,560 L1325,405 C1325,392 1355,392 1355,405 L1355,560"/>
<path class="l" d="M1270,625 C1300,640 1380,640 1400,615"/>
<ellipse class="w" cx="78" cy="735" rx="55" ry="42" transform="rotate(28 78 735)"/>
<ellipse class="l" cx="75" cy="738" rx="30" ry="20" transform="rotate(28 75 738)"/>
<ellipse class="l" cx="75" cy="738" rx="12" ry="8" transform="rotate(28 75 738)"/></g>
<g transform="translate(1115 560) scale(0.14374)"><path class="l" d="M175,195 C190,170 220,150 260,160 C350,145 520,150 600,220 C630,250 630,290 600,330 L590,370 L595,425 C620,435 650,430 660,400 C650,370 620,350 600,335 M175,195 C150,230 145,330 150,385 C200,450 340,480 440,465 M150,300 C170,380 350,440 490,380 M145,340 C180,420 340,460 470,430 M510,385 C530,400 550,430 560,460 C550,490 520,495 500,480" style="stroke-width:1.7"/>
<ellipse class="l" cx="380" cy="290" rx="172" ry="100" style="stroke-width:1.7" transform="rotate(-4 380 290)"/>
<path class="l" d="M235,325 C300,262 480,252 548,297" style="stroke-width:1.7"/>
<path class="w" d="M100,135 L185,95 C200,95 210,110 210,125 L180,200" style="stroke-width:1.7"/>
<ellipse class="w" cx="110" cy="170" rx="25" ry="38" style="stroke-width:1.7"/>
<ellipse class="l" cx="527" cy="452" rx="10" ry="15"/>
<ellipse class="l" cx="620" cy="400" rx="10" ry="15"/>
<path class="l" d="M578,365 L578,410"/>
<path class="w" d="M800,720 C795,680 830,645 860,655 C1000,690 1150,690 1330,665 C1360,660 1380,665 1390,675 C1410,670 1425,685 1430,700 L1440,725 C1455,735 1460,760 1450,780 L1410,795 C1400,810 1380,825 1350,820 C1200,770 1050,760 900,740 C870,765 820,760 800,720 Z"/>
<path class="l" d="M905,705 L1130,715 M1190,718 L1370,700 M1380,690 C1395,685 1405,700 1400,715"/>
<ellipse class="w" cx="858" cy="730" rx="40" ry="28" transform="rotate(-15 858 730)"/>
<ellipse class="l" cx="858" cy="732" rx="22" ry="13" transform="rotate(-15 858 732)"/>
<ellipse class="l" cx="1412" cy="760" rx="15" ry="15"/></g>
<g transform="translate(1185 715) scale(0.10000)"><path class="w" d="M160,280 C180,240 250,210 290,225 C310,235 320,255 325,265 C500,330 800,410 1100,445 C1200,440 1300,400 1390,415 L1410,430 L1415,460 C1450,470 1470,500 1465,530 C1455,555 1430,560 1410,550 L1385,600 L1380,640 C1300,640 1200,630 1100,605 C900,570 600,520 480,450 C400,400 330,360 265,370 L220,395 Z"/>
<path class="l" d="M265,285 C320,270 360,300 420,330 C500,370 650,410 790,440 M850,455 C950,480 1050,495 1100,495 C1180,490 1260,480 1320,490 M1380,500 C1390,470 1420,460 1440,475 M1385,600 C1400,590 1410,570 1405,550"/>
<ellipse class="w" cx="203" cy="328" rx="55" ry="72" transform="rotate(-20 203 328)"/>
<ellipse class="l" cx="205" cy="330" rx="20" ry="14" transform="rotate(30 205 330)"/>
<ellipse class="l" cx="1420" cy="515" rx="18" ry="22"/>
<ellipse class="l" cx="1355" cy="573" rx="15" ry="18"/></g>
</g>

<g id="rightcol">
<path class="w" d="M1387.2,65.8 L1387.2,72.5 A26.2,12.7 0 0 0 1439.6,72.5 L1439.6,65.8"/>
<ellipse class="w" cx="1413.4" cy="65.8" rx="26.2" ry="12.7"/>
<path class="w" d="M1400.4,62 Q1400.4,58 1407.4,57.6 L1419.4,57.6 Q1426.4,58 1426.4,64 L1426.4,69 Q1425.4,73.5 1417.4,74 L1407.4,74 Q1400.4,73.5 1400.4,68 Z"/>
<path class="t" d="M1401.9,66 Q1402.4,60.5 1409.4,60.2 L1418.4,60.2 Q1424.4,60.5 1425.7,66"/>
<ellipse class="t" cx="1395" cy="66" rx="2.2" ry="1.3"/>
<ellipse class="t" cx="1432.5" cy="66.4" rx="2.2" ry="1.3"/>
<path class="w" d="M1405.2,98.6 L1405.2,105.1 L1409.3,108.7 L1417.5,108.7 L1421.6,105.1 L1421.6,98.6 L1417.5,95 L1409.3,95 Z"/>
<path class="l" d="M1405.2,98.6 L1409.3,102.2 L1417.5,102.2 L1421.6,98.6"/>
<path class="t" d="M1409.3,102.2 L1409.3,108.7"/>
<path class="t" d="M1417.5,102.2 L1417.5,108.7"/>
<ellipse class="k" cx="1413.4" cy="98.6" rx="4.5" ry="2.3"/>
<ellipse class="w" cx="1413.4" cy="131.3" rx="11.6" ry="5.2"/>
<path class="w" d="M1405,124.5 L1405,129.1 A8.4,3.6 0 0 0 1421.8,129.1 L1421.8,124.5 A8.4,3.6 0 0 0 1405,124.5 A8.4,3.6 0 0 0 1421.8,124.5"/>
<ellipse class="t" cx="1413.4" cy="124.5" rx="2.4" ry="1.2"/>
<path class="w" d="M1405.1,162.5 L1405.1,167.5 A8.3,3.7 0 0 0 1421.7,167.5 L1421.7,162.5 A8.3,3.7 0 0 0 1405.1,162.5 A8.3,3.7 0 0 0 1421.7,162.5"/>
<path class="w" d="M1406.9,156 L1406.9,159 A6.5,3 0 0 0 1419.9,159 L1419.9,156 A6.5,3 0 0 0 1406.9,156 A6.5,3 0 0 0 1419.9,156"/>
<path class="w" d="M1405.1,150.4 L1405.1,154.9 A8.3,3.7 0 0 0 1421.7,154.9 L1421.7,150.4 A8.3,3.7 0 0 0 1405.1,150.4 A8.3,3.7 0 0 0 1421.7,150.4"/>
<ellipse class="t" cx="1413.4" cy="150.4" rx="2.6" ry="1.3"/>
<path class="w" d="M1402.4,206 L1402.4,211 A11,4.2 0 0 0 1424.4,211 L1424.4,206 A11,4.2 0 0 0 1402.4,206 A11,4.2 0 0 0 1424.4,206"/>
<path class="w" d="M1384.9,193.4 L1384.9,196.8 A28.5,14 0 0 0 1441.9,196.8 L1441.9,193.4"/>
<ellipse class="w" cx="1413.4" cy="193.4" rx="28.5" ry="13.6"/>
<ellipse class="l" cx="1413.4" cy="192.6" rx="17.2" ry="8.2"/>
<path class="l" d="M1402.9,195.5 A10.5,5.2 0 0 0 1423.9,195.5"/><path class="l" d="M1402.9,196.5 A10.5,5.8 0 0 1 1423.9,196.5"/>
<path class="l" d="M1407.4,198.5 A6,3.4 0 0 1 1419.4,198.5"/>
<path class="w" d="M1389.6,194 L1389.6,185 A1.6,1.2 0 0 1 1392.8,185 L1392.8,194 A1.6,0.9 0 0 1 1389.6,194"/>
<path class="w" d="M1433.3,188.5 L1433.3,179.5 A1.6,1.2 0 0 1 1436.5,179.5 L1436.5,188.5 A1.6,0.9 0 0 1 1433.3,188.5"/>
<path class="w" d="M1389.9,242.4 L1389.9,246 A23.5,13.5 0 0 0 1436.9,246 L1436.9,242.4"/>
<ellipse class="w" cx="1413.4" cy="242.4" rx="23.5" ry="13.2"/>
<ellipse class="l" cx="1413.4" cy="244.5" rx="13.5" ry="6.4"/>
<path class="l" d="M1433,243.1 A19.8,10.2 0 0 1 1430.8,246.5 L1427.7,246.4 A16.3,8 0 0 1 1425,248.2 L1427.5,248.8 A19.8,10.2 0 0 1 1422,250.8 L1420.4,249.8 A16.3,8 0 0 1 1416.1,250.5 L1416.6,251.7 A19.8,10.2 0 0 1 1409.8,251.6 L1410.5,250.5 A16.3,8 0 0 1 1406.1,249.8 L1404.5,250.7 A19.8,10.2 0 0 1 1399.1,248.6 L1401.6,248.1 A16.3,8 0 0 1 1398.9,246.3 L1395.8,246.3 A19.8,10.2 0 0 1 1393.8,243 L1397.2,243.7 A16.3,8 0 0 1 1397.3,241.4 L1393.8,240.1 A19.8,10.2 0 0 1 1396,236.7 L1399.1,238.8 A16.3,8 0 0 1 1401.8,237 L1399.3,234.4 A19.8,10.2 0 0 1 1404.8,232.4 L1406.4,235.4 A16.3,8 0 0 1 1410.7,234.7 L1410.2,231.5 A19.8,10.2 0 0 1 1417,231.6 L1416.3,234.7 A16.3,8 0 0 1 1420.7,235.4 L1422.3,232.5 A19.8,10.2 0 0 1 1427.7,234.6 L1425.2,237.1 A16.3,8 0 0 1 1427.9,238.9 L1431,236.9 A19.8,10.2 0 0 1 1433,240.2 L1429.6,241.5 A16.3,8 0 0 1 1429.5,243.8 L1433,243.1 Z"/>
<path class="w" d="M1405.7,272.6 L1405.7,281.6 L1409.6,284.7 L1417.2,284.7 L1421.1,281.6 L1421.1,272.6 L1417.2,269.5 L1409.6,269.5 Z"/>
<path class="l" d="M1405.7,272.6 L1409.6,275.7 L1417.2,275.7 L1421.1,272.6"/>
<path class="t" d="M1409.6,275.7 L1409.6,284.7"/>
<path class="t" d="M1417.2,275.7 L1417.2,284.7"/>
<ellipse class="l" cx="1413.4" cy="272.6" rx="2.5" ry="1.2"/>
<ellipse class="w" cx="1413.4" cy="315.6" rx="15.9" ry="6.6"/>
<path class="l" d="M1397.5,315.6 L1401.5,309.9 M1429.3,315.6 L1425.3,309.9"/>
<path class="w" d="M1401.5,309.9 L1401.5,313.2 A11.9,5.4 0 0 0 1425.3,313.2 L1425.3,309.9 A11.9,5.4 0 0 0 1401.5,309.9 A11.9,5.4 0 0 0 1425.3,309.9"/>
<ellipse class="t" cx="1413.4" cy="309.9" rx="2.6" ry="1.3"/>
<path class="w" d="M1400.1,345 L1400.1,403 A13.5,5.6 0 0 0 1427,403 L1427,345 A13.5,6 0 0 0 1422.5,337.5 A9.5,3.6 0 0 0 1404.5,337.5 A13.5,6 0 0 0 1400.1,345 Z"/>
<path class="l" d="M1400.1,355.5 A13.5,5.2 0 0 0 1427,355.5"/>
<path class="l" d="M1400.1,360.2 A13.5,5.2 0 0 0 1427,360.2"/>
<path class="l" d="M1400.1,365 A13.5,5.2 0 0 0 1427,365"/>
<path class="l" d="M1400.1,369.8 A13.5,5.2 0 0 0 1427,369.8"/>
<path class="l" d="M1400.1,374.5 A13.5,5.2 0 0 0 1427,374.5"/>
<path class="l" d="M1400.1,379.2 A13.5,5.2 0 0 0 1427,379.2"/>
<path class="l" d="M1400.1,384 A13.5,5.2 0 0 0 1427,384"/>
<path class="l" d="M1400.1,388.8 A13.5,5.2 0 0 0 1427,388.8"/>
<path class="l" d="M1400.1,393.5 A13.5,5.2 0 0 0 1427,393.5"/>
<path class="l" d="M1400.1,398.2 A13.5,5.2 0 0 0 1427,398.2"/>
<path class="l" d="M1400.1,403 A13.5,5.2 0 0 0 1427,403"/>
<ellipse class="l" cx="1413.5" cy="339.5" rx="8.5" ry="3.4"/>
<path class="l" d="M1400.1,345 A13.5,5.5 0 0 0 1409.5,350.5 M1417.5,350.5 A13.5,5.5 0 0 0 1427,345"/>
<path class="l" d="M1401.1,349.5 A13.5,5.5 0 0 0 1409.5,355 L1409.5,352 L1411.5,352 L1413,343 L1415,352 L1417.5,352 L1417.5,355 A13.5,5.5 0 0 0 1426,349.5"/>
<path class="t" d="M1404.5,340 A13.5,5.5 0 0 0 1410.5,345.5 M1416.5,345.5 A13.5,5.5 0 0 0 1422.5,340"/>
<path class="d" d="M1413.4,448 L1413.4,492"/>
<path d="M1436.9,454 L1436.7,455.1 L1436.4,456.1 L1436,457.1 L1435.4,458.1 L1434.7,459.1 L1433.8,460 L1432.9,460.9 L1431.8,461.8 L1430.6,462.6 L1429.3,463.4 L1427.9,464.1 L1426.5,464.8 L1424.9,465.4 L1423.3,466 L1421.6,466.5 L1419.9,466.9 L1418.2,467.2 L1416.4,467.5 L1414.6,467.8 L1412.8,467.9 L1411.1,468 L1409.3,468 L1407.6,468 L1405.9,467.9 L1404.3,467.7 L1402.8,467.5 L1401.3,467.2 L1399.9,466.9 L1398.6,466.5 L1397.4,466 L1396.3,465.5 L1395.4,465 L1394.5,464.4 L1393.8,463.9 L1393.2,463.2 L1392.8,462.6 L1392.5,462 L1392.3,461.3 L1392.3,460.6 L1392.4,460 L1392.7,459.3 L1393.1,458.7 L1393.6,458.1 L1394.3,457.5 L1395.1,456.9 L1396.1,456.4 L1397.1,455.9 L1398.3,455.4 L1399.5,455 L1400.9,454.7 L1402.3,454.4 L1403.9,454.1 L1405.5,453.9 L1407.1,453.8 L1408.8,453.7 L1410.6,453.7 L1412.3,453.8 L1414.1,453.9 L1415.9,454.1 L1417.7,454.4 L1419.4,454.8 L1421.1,455.2 L1422.8,455.6 L1424.5,456.2 L1426,456.9 L1427.5,457.6 L1428.9,458.3 L1430.2,459.2 L1431.5,460 L1432.6,460.9 L1433.6,461.9 L1434.4,462.9 L1435.2,463.9 L1435.8,464.9 L1436.3,466 L1436.6,467.1 L1436.8,468.1 L1436.9,469.2 L1436.8,470.3 L1436.6,471.4 L1436.2,472.5 L1435.7,473.5 L1435.1,474.6 L1434.3,475.6 L1433.4,476.6 L1432.4,477.5 L1431.3,478.4 L1430,479.3 L1428.7,480.1 L1427.3,480.8 L1425.8,481.5 L1424.2,482.2 L1422.5,482.7 L1420.8,483.2 L1419.1,483.7 L1417.4,484.1 L1415.6,484.4 L1413.8,484.6 L1412,484.8 L1410.3,484.9 L1408.5,485 L1406.8,484.9 L1405.2,484.9 L1403.6,484.8 L1402.1,484.7 L1400.6,484.5 L1399.3,484.2 L1398.1,483.9 L1396.9,483.5 L1395.9,483.1 L1395,482.7 L1394.2,482.2 L1393.5,481.8 L1393,481.2 L1392.6,480.7 L1392.4,480.2 L1392.3,479.6 L1392.3,479.1 L1392.5,478.5 L1392.9,478 L1393.3,477.5 L1393.9,477 L1394.7,476.5 L1395.5,476 L1396.5,475.6 L1397.6,475.3 L1398.8,474.9 L1400.1,474.6 L1401.5,474.4 L1403,474.3 L1404.6,474.1 L1406.2,474.1 L1407.9,474.1 L1409.6,474.2 L1411.4,474.3 L1413.1,474.5 L1414.9,474.8 L1416.7,475.1 L1418.5,475.6 L1420.2,476 L1421.9,476.6 L1423.6,477.2 L1425.2,477.9 L1426.7,478.6 L1428.2,479.4 L1429.5,480.2 L1430.8,481.1 L1432,482.1 L1433.1,483.1 L1434,484.1 L1434.8,485.1 L1435.5,486.2 L1436.1,487.3 L1436.5,488.5 L1436.7,489.6 L1436.9,490.7 L1436.9,491.9 L1436.7,493 L1436.4,494.2 L1436,495.3 L1435.4,496.4 L1434.7,497.5 L1433.9,498.5 L1433,499.6 L1431.9,500.5 L1430.7,501.5 L1429.4,502.4 L1428,503.2 L1426.6,504 L1425,504.7 L1423.4,505.4 L1421.8,506 L1420.1,506.5 L1418.3,507 L1416.5,507.4 L1414.8,507.7 L1413,508 L1411.2,508.2 L1409.5,508.4 L1407.7,508.4 L1406.1,508.4 L1404.4,508.4 L1402.9,508.3 L1401.4,508.1 L1400,507.8 L1398.7,507.6 L1397.5,507.2 L1396.4,506.9 L1395.4,506.4 L1394.6,506 L1393.9,505.5 L1393.3,505 L1392.8,504.5 L1392.5,504 L1392.3,503.4 L1392.3,502.9 L1392.4,502.3 L1392.7,501.8 L1393.1,501.2 L1393.6,500.7 L1394.3,500.2 L1395.1,499.8 L1396,499.3 L1397,498.9 L1398.2,498.6 L1399.4,498.3 L1400.8,498 L1402.2,497.8 L1403.7,497.7 L1405.3,497.6 L1407,497.6 L1408.7,497.6 L1410.4,497.7 L1412.2,497.9 L1414,498.1 L1415.7,498.5 L1417.5,498.8 L1419.3,499.3 L1421,499.8 L1422.7,500.4 L1424.3,501 L1425.9,501.7 L1427.4,502.5 L1428.8,503.3 L1430.1,504.1 L1431.4,505.1 L1432.5,506 L1433.5,507 L1434.4,508.1 L1435.1,509.1 L1435.8,510.2 L1436.3,511.3 L1436.6,512.5 L1436.8,513.6 L1436.9,514.8 L1436.8,515.9 L1436.6,517.1 L1436.3,518.2 L1435.8,519.3 L1435.1,520.4 L1434.4,521.5 L1433.5,522.5 L1432.5,523.5 L1431.4,524.5 L1430.1,525.4 L1428.8,526.3 L1427.4,527.1 L1425.9,527.8 L1424.3,528.5 L1422.7,529.2 L1421,529.7 L1419.3,530.3 L1417.5,530.7 L1415.7,531.1 L1413.9,531.4 L1412.2,531.6 L1410.4,531.8 L1408.7,531.9 L1407,531.9 L1405.3,531.9 L1403.7,531.8 L1402.2,531.7 L1400.8,531.5 L1399.4,531.2 L1398.1,530.9 L1397,530.6 L1396,530.2 L1395,529.7 L1394.2,529.3 L1393.6,528.8 L1393.1,528.3 L1392.7,527.7 L1392.4,527.2 L1392.3,526.7 L1392.3,526.1 L1392.5,525.6 L1392.8,525 L1393.3,524.5 L1393.9,524 L1394.6,523.5 L1395.5,523.1 L1396.4,522.7 L1397.5,522.3 L1398.7,522 L1400,521.7 L1401.4,521.4 L1402.9,521.3 L1404.5,521.1 L1406.1,521.1 L1407.8,521.1 L1409.5,521.2 L1411.2,521.3 L1413,521.5 L1414.8,521.8 L1416.6,522.1 L1418.3,522.5 L1420.1,523 L1421.8,523.5 L1423.4,524.1 L1425.1,524.8 L1426.6,525.5 L1428.1,526.3 L1429.4,527.2 L1430.7,528.1 L1431.9,529 L1433,530 L1433.9,531 L1434.7,532 L1435.4,533.1 L1436,534.2 L1436.4,535.4 L1436.7,536.5 L1436.9,537.6 L1436.9,538.8 L1436.7,539.9 L1436.5,541.1 L1436,542.2 L1435.5,543.3 L1434.8,544.4 L1434,545.5 L1433,546.5 L1432,547.5 L1430.8,548.4 L1429.5,549.3 L1428.2,550.1 L1426.7,550.9 L1425.2,551.7 L1423.6,552.3 L1421.9,552.9 L1420.2,553.5 L1418.5,553.9 L1416.7,554.2 L1414.9,554.5 L1413.1,554.7 L1411.3,554.8 L1409.6,554.9 L1407.9,554.8 L1406.2,554.8 L1404.6,554.6 L1403,554.4 L1401.5,554.2 L1400.1,553.9 L1398.8,553.5 L1397.6,553.1 L1396.5,552.7 L1395.5,552.2 L1394.7,551.6 L1393.9,551.1 L1393.3,550.5 L1392.9,549.9 L1392.5,549.3 L1392.3,548.6 L1392.3,548 L1392.4,547.4 L1392.6,546.7 L1393,546.1 L1393.5,545.5 L1394.2,545 L1395,544.4 L1395.9,543.9 L1396.9,543.4 L1398.1,543 L1399.4,542.6 L1400.7,542.3 L1402.2,542 L1403.7,541.8 L1405.3,541.7 L1407,541.6 L1408.6,541.5 L1410.3,541.6 L1412.1,541.7 L1413.8,541.9 L1415.6,542.1 L1417.3,542.4 L1419,542.8 L1420.7,543.2 L1422.3,543.7 L1423.9,544.3 L1425.4,544.9 L1426.8,545.6 L1428.2,546.3 L1429.4,547.1 L1430.6,547.9 L1431.6,548.7 L1432.6,549.6 L1433.4,550.6 L1434.1,551.5 L1434.7,552.5 L1435.1,553.5 L1435.4,554.5 L1435.6,555.5 L1435.6,556.5 L1435.5,557.6 L1435.3,558.6 L1434.9,559.6 L1434.4,560.5 L1433.8,561.5 L1433.1,562.4 L1432.2,563.3 L1431.3,564.2 L1430.2,565 L1429.1,565.8 L1427.8,566.5 L1426.5,567.2 L1425.1,567.8 L1423.6,568.4 L1422.1,568.9 L1420.6,569.4 L1419,569.7 L1417.4,569.9 L1415.7,570.1 L1414.1,570.2 L1412.5,570.3 L1410.9,570.3 L1409.4,570.2 L1407.9,570.1 L1406.4,569.9 L1405,569.7 L1403.6,569.4 L1402.4,569.1 L1401.2,568.7 L1400.1,568.3 L1399.1,567.8 L1398.2,567.3 L1397.4,566.8 L1396.7,566.2 L1396.2,565.7 L1395.7,565.1 L1395.4,564.5 L1395.2,563.9 L1395.2,563.3 L1395.2,562.6 L1395.4,562 L1395.7,561.4 L1396.1,560.9 L1396.7,560.3 L1397.3,559.8 L1398.1,559.3 L1399,558.8 L1399.9,558.3 L1401,557.9 L1402.1,557.6 L1403.3,557.3 L1404.6,557 L1405.9,556.8 L1407.3,556.6 L1408.7,556.5 L1410.2,556.5 L1411.7,556.5 L1413.1,556.5 L1414.6,556.7 L1416.1,556.8 L1417.6,557.1 L1419,557.4 L1420.4,557.7 L1421.8,558.1 L1423.1,558.5 L1424.4,559 L1425.5,559.6 L1426.7,560.2 L1427.7,560.8 L1428.6,561.4 L1429.5,562.1 L1430.2,562.8 L1430.9,563.6 L1431.4,564.4 L1431.8,565.1 L1432.1,565.9 L1432.3,566.7 L1432.4,567.5 L1432.4,568.4 L1432.3,569.2 L1432,570 L1431.6,570.7 L1431.2,571.5 L1430.6,572.2 L1429.9,573 L1429.1,573.6 L1428.3,574.3 L1427.3,574.9 L1426.3,575.5 L1425.2,576 L1424.1,576.5 L1422.9,577 L1421.6,577.4 L1420.3,577.7 L1419,578 L1417.7,578.2 L1416.3,578.4 L1414.9,578.5 L1413.6,578.6 L1412.2,578.6 L1410.9,578.6 L1409.6,578.5 L1408.3,578.4 L1407.1,578.2 L1405.9,578 L1404.7,577.7 L1403.6,577.4 L1402.6,577.1 L1401.7,576.7 L1400.9,576.2 L1400.1,575.8 L1399.4,575.3 L1398.9,574.8 L1398.4,574.3 L1398.1,573.8 L1397.8,573.2 L1397.6,572.7 L1397.6,572.1 L1397.7,571.5 L1397.8,571 L1398.1,570.4 L1398.5,569.9 L1399,569.4 L1399.6,568.9 L1400.3,568.4 L1401.1,568 L1401.9,567.6 L1402.9,567.2 L1403.9,566.9 L1405,566.6 L1406.1,566.3 L1407.3,566.1 L1408.6,565.9 L1409.9,565.8 L1411.2,565.7 L1412.5,565.7 L1413.9,565.8 L1415.3,565.9 L1416.6,566 L1418,566.2 L1419.3,566.4 L1420.6,566.7 L1421.8,567.1 L1423,567.5 L1424.2,567.9 L1425.3,568.4 L1426.3,568.9 L1427.2,569.4 L1428.1,570 L1428.9,570.6 L1429.6,571.3 L1430.2,572 L1430.7,572.7 L1431.1,573.4 L1431.3,574.1 L1431.5,574.8 L1431.6,575.6 L1431.6,576.3 L1431.4,577 L1431.2,577.8 L1430.8,578.5 L1430.3,579.2 L1429.8,579.8 L1429.1,580.5 L1428.4,581.1 L1427.5,581.7 L1426.6,582.3 L1425.6,582.8 L1424.5,583.3 L1423.4,583.8 L1422.2,584.2 L1421,584.5 L1419.7,584.8 L1418.4,585.1 L1417,585.3 L1415.7,585.4 L1414.3,585.5" fill="none" stroke="#231f20" stroke-width="7.3" stroke-linecap="round" stroke-linejoin="round"/>
<path d="M1436.9,454 L1436.7,455.1 L1436.4,456.1 L1436,457.1 L1435.4,458.1 L1434.7,459.1 L1433.8,460 L1432.9,460.9 L1431.8,461.8 L1430.6,462.6 L1429.3,463.4 L1427.9,464.1 L1426.5,464.8 L1424.9,465.4 L1423.3,466 L1421.6,466.5 L1419.9,466.9 L1418.2,467.2 L1416.4,467.5 L1414.6,467.8 L1412.8,467.9 L1411.1,468 L1409.3,468 L1407.6,468 L1405.9,467.9 L1404.3,467.7 L1402.8,467.5 L1401.3,467.2 L1399.9,466.9 L1398.6,466.5 L1397.4,466 L1396.3,465.5 L1395.4,465 L1394.5,464.4 L1393.8,463.9 L1393.2,463.2 L1392.8,462.6 L1392.5,462 L1392.3,461.3 L1392.3,460.6 L1392.4,460 L1392.7,459.3 L1393.1,458.7 L1393.6,458.1 L1394.3,457.5 L1395.1,456.9 L1396.1,456.4 L1397.1,455.9 L1398.3,455.4 L1399.5,455 L1400.9,454.7 L1402.3,454.4 L1403.9,454.1 L1405.5,453.9 L1407.1,453.8 L1408.8,453.7 L1410.6,453.7 L1412.3,453.8 L1414.1,453.9 L1415.9,454.1 L1417.7,454.4 L1419.4,454.8 L1421.1,455.2 L1422.8,455.6 L1424.5,456.2 L1426,456.9 L1427.5,457.6 L1428.9,458.3 L1430.2,459.2 L1431.5,460 L1432.6,460.9 L1433.6,461.9 L1434.4,462.9 L1435.2,463.9 L1435.8,464.9 L1436.3,466 L1436.6,467.1 L1436.8,468.1 L1436.9,469.2 L1436.8,470.3 L1436.6,471.4 L1436.2,472.5 L1435.7,473.5 L1435.1,474.6 L1434.3,475.6 L1433.4,476.6 L1432.4,477.5 L1431.3,478.4 L1430,479.3 L1428.7,480.1 L1427.3,480.8 L1425.8,481.5 L1424.2,482.2 L1422.5,482.7 L1420.8,483.2 L1419.1,483.7 L1417.4,484.1 L1415.6,484.4 L1413.8,484.6 L1412,484.8 L1410.3,484.9 L1408.5,485 L1406.8,484.9 L1405.2,484.9 L1403.6,484.8 L1402.1,484.7 L1400.6,484.5 L1399.3,484.2 L1398.1,483.9 L1396.9,483.5 L1395.9,483.1 L1395,482.7 L1394.2,482.2 L1393.5,481.8 L1393,481.2 L1392.6,480.7 L1392.4,480.2 L1392.3,479.6 L1392.3,479.1 L1392.5,478.5 L1392.9,478 L1393.3,477.5 L1393.9,477 L1394.7,476.5 L1395.5,476 L1396.5,475.6 L1397.6,475.3 L1398.8,474.9 L1400.1,474.6 L1401.5,474.4 L1403,474.3 L1404.6,474.1 L1406.2,474.1 L1407.9,474.1 L1409.6,474.2 L1411.4,474.3 L1413.1,474.5 L1414.9,474.8 L1416.7,475.1 L1418.5,475.6 L1420.2,476 L1421.9,476.6 L1423.6,477.2 L1425.2,477.9 L1426.7,478.6 L1428.2,479.4 L1429.5,480.2 L1430.8,481.1 L1432,482.1 L1433.1,483.1 L1434,484.1 L1434.8,485.1 L1435.5,486.2 L1436.1,487.3 L1436.5,488.5 L1436.7,489.6 L1436.9,490.7 L1436.9,491.9 L1436.7,493 L1436.4,494.2 L1436,495.3 L1435.4,496.4 L1434.7,497.5 L1433.9,498.5 L1433,499.6 L1431.9,500.5 L1430.7,501.5 L1429.4,502.4 L1428,503.2 L1426.6,504 L1425,504.7 L1423.4,505.4 L1421.8,506 L1420.1,506.5 L1418.3,507 L1416.5,507.4 L1414.8,507.7 L1413,508 L1411.2,508.2 L1409.5,508.4 L1407.7,508.4 L1406.1,508.4 L1404.4,508.4 L1402.9,508.3 L1401.4,508.1 L1400,507.8 L1398.7,507.6 L1397.5,507.2 L1396.4,506.9 L1395.4,506.4 L1394.6,506 L1393.9,505.5 L1393.3,505 L1392.8,504.5 L1392.5,504 L1392.3,503.4 L1392.3,502.9 L1392.4,502.3 L1392.7,501.8 L1393.1,501.2 L1393.6,500.7 L1394.3,500.2 L1395.1,499.8 L1396,499.3 L1397,498.9 L1398.2,498.6 L1399.4,498.3 L1400.8,498 L1402.2,497.8 L1403.7,497.7 L1405.3,497.6 L1407,497.6 L1408.7,497.6 L1410.4,497.7 L1412.2,497.9 L1414,498.1 L1415.7,498.5 L1417.5,498.8 L1419.3,499.3 L1421,499.8 L1422.7,500.4 L1424.3,501 L1425.9,501.7 L1427.4,502.5 L1428.8,503.3 L1430.1,504.1 L1431.4,505.1 L1432.5,506 L1433.5,507 L1434.4,508.1 L1435.1,509.1 L1435.8,510.2 L1436.3,511.3 L1436.6,512.5 L1436.8,513.6 L1436.9,514.8 L1436.8,515.9 L1436.6,517.1 L1436.3,518.2 L1435.8,519.3 L1435.1,520.4 L1434.4,521.5 L1433.5,522.5 L1432.5,523.5 L1431.4,524.5 L1430.1,525.4 L1428.8,526.3 L1427.4,527.1 L1425.9,527.8 L1424.3,528.5 L1422.7,529.2 L1421,529.7 L1419.3,530.3 L1417.5,530.7 L1415.7,531.1 L1413.9,531.4 L1412.2,531.6 L1410.4,531.8 L1408.7,531.9 L1407,531.9 L1405.3,531.9 L1403.7,531.8 L1402.2,531.7 L1400.8,531.5 L1399.4,531.2 L1398.1,530.9 L1397,530.6 L1396,530.2 L1395,529.7 L1394.2,529.3 L1393.6,528.8 L1393.1,528.3 L1392.7,527.7 L1392.4,527.2 L1392.3,526.7 L1392.3,526.1 L1392.5,525.6 L1392.8,525 L1393.3,524.5 L1393.9,524 L1394.6,523.5 L1395.5,523.1 L1396.4,522.7 L1397.5,522.3 L1398.7,522 L1400,521.7 L1401.4,521.4 L1402.9,521.3 L1404.5,521.1 L1406.1,521.1 L1407.8,521.1 L1409.5,521.2 L1411.2,521.3 L1413,521.5 L1414.8,521.8 L1416.6,522.1 L1418.3,522.5 L1420.1,523 L1421.8,523.5 L1423.4,524.1 L1425.1,524.8 L1426.6,525.5 L1428.1,526.3 L1429.4,527.2 L1430.7,528.1 L1431.9,529 L1433,530 L1433.9,531 L1434.7,532 L1435.4,533.1 L1436,534.2 L1436.4,535.4 L1436.7,536.5 L1436.9,537.6 L1436.9,538.8 L1436.7,539.9 L1436.5,541.1 L1436,542.2 L1435.5,543.3 L1434.8,544.4 L1434,545.5 L1433,546.5 L1432,547.5 L1430.8,548.4 L1429.5,549.3 L1428.2,550.1 L1426.7,550.9 L1425.2,551.7 L1423.6,552.3 L1421.9,552.9 L1420.2,553.5 L1418.5,553.9 L1416.7,554.2 L1414.9,554.5 L1413.1,554.7 L1411.3,554.8 L1409.6,554.9 L1407.9,554.8 L1406.2,554.8 L1404.6,554.6 L1403,554.4 L1401.5,554.2 L1400.1,553.9 L1398.8,553.5 L1397.6,553.1 L1396.5,552.7 L1395.5,552.2 L1394.7,551.6 L1393.9,551.1 L1393.3,550.5 L1392.9,549.9 L1392.5,549.3 L1392.3,548.6 L1392.3,548 L1392.4,547.4 L1392.6,546.7 L1393,546.1 L1393.5,545.5 L1394.2,545 L1395,544.4 L1395.9,543.9 L1396.9,543.4 L1398.1,543 L1399.4,542.6 L1400.7,542.3 L1402.2,542 L1403.7,541.8 L1405.3,541.7 L1407,541.6 L1408.6,541.5 L1410.3,541.6 L1412.1,541.7 L1413.8,541.9 L1415.6,542.1 L1417.3,542.4 L1419,542.8 L1420.7,543.2 L1422.3,543.7 L1423.9,544.3 L1425.4,544.9 L1426.8,545.6 L1428.2,546.3 L1429.4,547.1 L1430.6,547.9 L1431.6,548.7 L1432.6,549.6 L1433.4,550.6 L1434.1,551.5 L1434.7,552.5 L1435.1,553.5 L1435.4,554.5 L1435.6,555.5 L1435.6,556.5 L1435.5,557.6 L1435.3,558.6 L1434.9,559.6 L1434.4,560.5 L1433.8,561.5 L1433.1,562.4 L1432.2,563.3 L1431.3,564.2 L1430.2,565 L1429.1,565.8 L1427.8,566.5 L1426.5,567.2 L1425.1,567.8 L1423.6,568.4 L1422.1,568.9 L1420.6,569.4 L1419,569.7 L1417.4,569.9 L1415.7,570.1 L1414.1,570.2 L1412.5,570.3 L1410.9,570.3 L1409.4,570.2 L1407.9,570.1 L1406.4,569.9 L1405,569.7 L1403.6,569.4 L1402.4,569.1 L1401.2,568.7 L1400.1,568.3 L1399.1,567.8 L1398.2,567.3 L1397.4,566.8 L1396.7,566.2 L1396.2,565.7 L1395.7,565.1 L1395.4,564.5 L1395.2,563.9 L1395.2,563.3 L1395.2,562.6 L1395.4,562 L1395.7,561.4 L1396.1,560.9 L1396.7,560.3 L1397.3,559.8 L1398.1,559.3 L1399,558.8 L1399.9,558.3 L1401,557.9 L1402.1,557.6 L1403.3,557.3 L1404.6,557 L1405.9,556.8 L1407.3,556.6 L1408.7,556.5 L1410.2,556.5 L1411.7,556.5 L1413.1,556.5 L1414.6,556.7 L1416.1,556.8 L1417.6,557.1 L1419,557.4 L1420.4,557.7 L1421.8,558.1 L1423.1,558.5 L1424.4,559 L1425.5,559.6 L1426.7,560.2 L1427.7,560.8 L1428.6,561.4 L1429.5,562.1 L1430.2,562.8 L1430.9,563.6 L1431.4,564.4 L1431.8,565.1 L1432.1,565.9 L1432.3,566.7 L1432.4,567.5 L1432.4,568.4 L1432.3,569.2 L1432,570 L1431.6,570.7 L1431.2,571.5 L1430.6,572.2 L1429.9,573 L1429.1,573.6 L1428.3,574.3 L1427.3,574.9 L1426.3,575.5 L1425.2,576 L1424.1,576.5 L1422.9,577 L1421.6,577.4 L1420.3,577.7 L1419,578 L1417.7,578.2 L1416.3,578.4 L1414.9,578.5 L1413.6,578.6 L1412.2,578.6 L1410.9,578.6 L1409.6,578.5 L1408.3,578.4 L1407.1,578.2 L1405.9,578 L1404.7,577.7 L1403.6,577.4 L1402.6,577.1 L1401.7,576.7 L1400.9,576.2 L1400.1,575.8 L1399.4,575.3 L1398.9,574.8 L1398.4,574.3 L1398.1,573.8 L1397.8,573.2 L1397.6,572.7 L1397.6,572.1 L1397.7,571.5 L1397.8,571 L1398.1,570.4 L1398.5,569.9 L1399,569.4 L1399.6,568.9 L1400.3,568.4 L1401.1,568 L1401.9,567.6 L1402.9,567.2 L1403.9,566.9 L1405,566.6 L1406.1,566.3 L1407.3,566.1 L1408.6,565.9 L1409.9,565.8 L1411.2,565.7 L1412.5,565.7 L1413.9,565.8 L1415.3,565.9 L1416.6,566 L1418,566.2 L1419.3,566.4 L1420.6,566.7 L1421.8,567.1 L1423,567.5 L1424.2,567.9 L1425.3,568.4 L1426.3,568.9 L1427.2,569.4 L1428.1,570 L1428.9,570.6 L1429.6,571.3 L1430.2,572 L1430.7,572.7 L1431.1,573.4 L1431.3,574.1 L1431.5,574.8 L1431.6,575.6 L1431.6,576.3 L1431.4,577 L1431.2,577.8 L1430.8,578.5 L1430.3,579.2 L1429.8,579.8 L1429.1,580.5 L1428.4,581.1 L1427.5,581.7 L1426.6,582.3 L1425.6,582.8 L1424.5,583.3 L1423.4,583.8 L1422.2,584.2 L1421,584.5 L1419.7,584.8 L1418.4,585.1 L1417,585.3 L1415.7,585.4 L1414.3,585.5" fill="none" stroke="#fff" stroke-width="3.1" stroke-linecap="round" stroke-linejoin="round"/>
<path d="M1436.4,456.1 L1436,457.1 L1435.4,458.1 L1434.7,459.1 L1433.8,460 L1432.9,460.9 L1431.8,461.8 L1430.6,462.6 L1429.3,463.4 L1427.9,464.1 L1426.5,464.8 L1424.9,465.4 L1423.3,466 L1421.6,466.5 L1419.9,466.9 L1418.2,467.2 L1416.4,467.5 L1414.6,467.8 L1412.8,467.9 L1411.1,468 L1409.3,468 L1407.6,468 L1405.9,467.9 L1404.3,467.7 L1402.8,467.5 L1401.3,467.2 L1399.9,466.9 L1398.6,466.5 L1397.4,466 L1396.3,465.5 L1395.4,465 L1394.5,464.4 L1393.8,463.9 L1393.2,463.2 L1392.8,462.6 L1392.5,462 L1392.3,461.3" fill="none" stroke="#231f20" stroke-width="7.3" stroke-linecap="butt" stroke-linejoin="round"/>
<path d="M1436.9,454 L1436.7,455.1 L1436.4,456.1 L1436,457.1 L1435.4,458.1 L1434.7,459.1 L1433.8,460 L1432.9,460.9 L1431.8,461.8 L1430.6,462.6 L1429.3,463.4 L1427.9,464.1 L1426.5,464.8 L1424.9,465.4 L1423.3,466 L1421.6,466.5 L1419.9,466.9 L1418.2,467.2 L1416.4,467.5 L1414.6,467.8 L1412.8,467.9 L1411.1,468 L1409.3,468 L1407.6,468 L1405.9,467.9 L1404.3,467.7 L1402.8,467.5 L1401.3,467.2 L1399.9,466.9 L1398.6,466.5 L1397.4,466 L1396.3,465.5 L1395.4,465 L1394.5,464.4 L1393.8,463.9 L1393.2,463.2 L1392.8,462.6 L1392.5,462 L1392.3,461.3 L1392.3,460.6 L1392.4,460" fill="none" stroke="#fff" stroke-width="3.1" stroke-linecap="butt" stroke-linejoin="round"/>
<path d="M1436.8,470.3 L1436.6,471.4 L1436.2,472.5 L1435.7,473.5 L1435.1,474.6 L1434.3,475.6 L1433.4,476.6 L1432.4,477.5 L1431.3,478.4 L1430,479.3 L1428.7,480.1 L1427.3,480.8 L1425.8,481.5 L1424.2,482.2 L1422.5,482.7 L1420.8,483.2 L1419.1,483.7 L1417.4,484.1 L1415.6,484.4 L1413.8,484.6 L1412,484.8 L1410.3,484.9 L1408.5,485 L1406.8,484.9 L1405.2,484.9 L1403.6,484.8 L1402.1,484.7 L1400.6,484.5 L1399.3,484.2 L1398.1,483.9 L1396.9,483.5 L1395.9,483.1 L1395,482.7 L1394.2,482.2 L1393.5,481.8 L1393,481.2 L1392.6,480.7 L1392.4,480.2" fill="none" stroke="#231f20" stroke-width="7.3" stroke-linecap="butt" stroke-linejoin="round"/>
<path d="M1436.8,468.1 L1436.9,469.2 L1436.8,470.3 L1436.6,471.4 L1436.2,472.5 L1435.7,473.5 L1435.1,474.6 L1434.3,475.6 L1433.4,476.6 L1432.4,477.5 L1431.3,478.4 L1430,479.3 L1428.7,480.1 L1427.3,480.8 L1425.8,481.5 L1424.2,482.2 L1422.5,482.7 L1420.8,483.2 L1419.1,483.7 L1417.4,484.1 L1415.6,484.4 L1413.8,484.6 L1412,484.8 L1410.3,484.9 L1408.5,485 L1406.8,484.9 L1405.2,484.9 L1403.6,484.8 L1402.1,484.7 L1400.6,484.5 L1399.3,484.2 L1398.1,483.9 L1396.9,483.5 L1395.9,483.1 L1395,482.7 L1394.2,482.2 L1393.5,481.8 L1393,481.2 L1392.6,480.7 L1392.4,480.2 L1392.3,479.6 L1392.3,479.1" fill="none" stroke="#fff" stroke-width="3.1" stroke-linecap="butt" stroke-linejoin="round"/>
<path d="M1436.9,491.9 L1436.7,493 L1436.4,494.2 L1436,495.3 L1435.4,496.4 L1434.7,497.5 L1433.9,498.5 L1433,499.6 L1431.9,500.5 L1430.7,501.5 L1429.4,502.4 L1428,503.2 L1426.6,504 L1425,504.7 L1423.4,505.4 L1421.8,506 L1420.1,506.5 L1418.3,507 L1416.5,507.4 L1414.8,507.7 L1413,508 L1411.2,508.2 L1409.5,508.4 L1407.7,508.4 L1406.1,508.4 L1404.4,508.4 L1402.9,508.3 L1401.4,508.1 L1400,507.8 L1398.7,507.6 L1397.5,507.2 L1396.4,506.9 L1395.4,506.4 L1394.6,506 L1393.9,505.5 L1393.3,505 L1392.8,504.5 L1392.5,504 L1392.3,503.4" fill="none" stroke="#231f20" stroke-width="7.3" stroke-linecap="butt" stroke-linejoin="round"/>
<path d="M1436.7,489.6 L1436.9,490.7 L1436.9,491.9 L1436.7,493 L1436.4,494.2 L1436,495.3 L1435.4,496.4 L1434.7,497.5 L1433.9,498.5 L1433,499.6 L1431.9,500.5 L1430.7,501.5 L1429.4,502.4 L1428,503.2 L1426.6,504 L1425,504.7 L1423.4,505.4 L1421.8,506 L1420.1,506.5 L1418.3,507 L1416.5,507.4 L1414.8,507.7 L1413,508 L1411.2,508.2 L1409.5,508.4 L1407.7,508.4 L1406.1,508.4 L1404.4,508.4 L1402.9,508.3 L1401.4,508.1 L1400,507.8 L1398.7,507.6 L1397.5,507.2 L1396.4,506.9 L1395.4,506.4 L1394.6,506 L1393.9,505.5 L1393.3,505 L1392.8,504.5 L1392.5,504 L1392.3,503.4 L1392.3,502.9 L1392.4,502.3" fill="none" stroke="#fff" stroke-width="3.1" stroke-linecap="butt" stroke-linejoin="round"/>
<path d="M1436.8,515.9 L1436.6,517.1 L1436.3,518.2 L1435.8,519.3 L1435.1,520.4 L1434.4,521.5 L1433.5,522.5 L1432.5,523.5 L1431.4,524.5 L1430.1,525.4 L1428.8,526.3 L1427.4,527.1 L1425.9,527.8 L1424.3,528.5 L1422.7,529.2 L1421,529.7 L1419.3,530.3 L1417.5,530.7 L1415.7,531.1 L1413.9,531.4 L1412.2,531.6 L1410.4,531.8 L1408.7,531.9 L1407,531.9 L1405.3,531.9 L1403.7,531.8 L1402.2,531.7 L1400.8,531.5 L1399.4,531.2 L1398.1,530.9 L1397,530.6 L1396,530.2 L1395,529.7 L1394.2,529.3 L1393.6,528.8 L1393.1,528.3 L1392.7,527.7 L1392.4,527.2" fill="none" stroke="#231f20" stroke-width="7.3" stroke-linecap="butt" stroke-linejoin="round"/>
<path d="M1436.8,513.6 L1436.9,514.8 L1436.8,515.9 L1436.6,517.1 L1436.3,518.2 L1435.8,519.3 L1435.1,520.4 L1434.4,521.5 L1433.5,522.5 L1432.5,523.5 L1431.4,524.5 L1430.1,525.4 L1428.8,526.3 L1427.4,527.1 L1425.9,527.8 L1424.3,528.5 L1422.7,529.2 L1421,529.7 L1419.3,530.3 L1417.5,530.7 L1415.7,531.1 L1413.9,531.4 L1412.2,531.6 L1410.4,531.8 L1408.7,531.9 L1407,531.9 L1405.3,531.9 L1403.7,531.8 L1402.2,531.7 L1400.8,531.5 L1399.4,531.2 L1398.1,530.9 L1397,530.6 L1396,530.2 L1395,529.7 L1394.2,529.3 L1393.6,528.8 L1393.1,528.3 L1392.7,527.7 L1392.4,527.2 L1392.3,526.7 L1392.3,526.1" fill="none" stroke="#fff" stroke-width="3.1" stroke-linecap="butt" stroke-linejoin="round"/>
<path d="M1436.7,539.9 L1436.5,541.1 L1436,542.2 L1435.5,543.3 L1434.8,544.4 L1434,545.5 L1433,546.5 L1432,547.5 L1430.8,548.4 L1429.5,549.3 L1428.2,550.1 L1426.7,550.9 L1425.2,551.7 L1423.6,552.3 L1421.9,552.9 L1420.2,553.5 L1418.5,553.9 L1416.7,554.2 L1414.9,554.5 L1413.1,554.7 L1411.3,554.8 L1409.6,554.9 L1407.9,554.8 L1406.2,554.8 L1404.6,554.6 L1403,554.4 L1401.5,554.2 L1400.1,553.9 L1398.8,553.5 L1397.6,553.1 L1396.5,552.7 L1395.5,552.2 L1394.7,551.6 L1393.9,551.1 L1393.3,550.5 L1392.9,549.9 L1392.5,549.3 L1392.3,548.6" fill="none" stroke="#231f20" stroke-width="7.3" stroke-linecap="butt" stroke-linejoin="round"/>
<path d="M1436.9,537.6 L1436.9,538.8 L1436.7,539.9 L1436.5,541.1 L1436,542.2 L1435.5,543.3 L1434.8,544.4 L1434,545.5 L1433,546.5 L1432,547.5 L1430.8,548.4 L1429.5,549.3 L1428.2,550.1 L1426.7,550.9 L1425.2,551.7 L1423.6,552.3 L1421.9,552.9 L1420.2,553.5 L1418.5,553.9 L1416.7,554.2 L1414.9,554.5 L1413.1,554.7 L1411.3,554.8 L1409.6,554.9 L1407.9,554.8 L1406.2,554.8 L1404.6,554.6 L1403,554.4 L1401.5,554.2 L1400.1,553.9 L1398.8,553.5 L1397.6,553.1 L1396.5,552.7 L1395.5,552.2 L1394.7,551.6 L1393.9,551.1 L1393.3,550.5 L1392.9,549.9 L1392.5,549.3 L1392.3,548.6 L1392.3,548 L1392.4,547.4" fill="none" stroke="#fff" stroke-width="3.1" stroke-linecap="butt" stroke-linejoin="round"/>
<path d="M1435.5,557.6 L1435.3,558.6 L1434.9,559.6 L1434.4,560.5 L1433.8,561.5 L1433.1,562.4 L1432.2,563.3 L1431.3,564.2 L1430.2,565 L1429.1,565.8 L1427.8,566.5 L1426.5,567.2 L1425.1,567.8 L1423.6,568.4 L1422.1,568.9 L1420.6,569.4 L1419,569.7 L1417.4,569.9 L1415.7,570.1 L1414.1,570.2 L1412.5,570.3 L1410.9,570.3 L1409.4,570.2 L1407.9,570.1 L1406.4,569.9 L1405,569.7 L1403.6,569.4 L1402.4,569.1 L1401.2,568.7 L1400.1,568.3 L1399.1,567.8 L1398.2,567.3 L1397.4,566.8 L1396.7,566.2 L1396.2,565.7 L1395.7,565.1 L1395.4,564.5 L1395.2,563.9" fill="none" stroke="#231f20" stroke-width="7.3" stroke-linecap="butt" stroke-linejoin="round"/>
<path d="M1435.6,555.5 L1435.6,556.5 L1435.5,557.6 L1435.3,558.6 L1434.9,559.6 L1434.4,560.5 L1433.8,561.5 L1433.1,562.4 L1432.2,563.3 L1431.3,564.2 L1430.2,565 L1429.1,565.8 L1427.8,566.5 L1426.5,567.2 L1425.1,567.8 L1423.6,568.4 L1422.1,568.9 L1420.6,569.4 L1419,569.7 L1417.4,569.9 L1415.7,570.1 L1414.1,570.2 L1412.5,570.3 L1410.9,570.3 L1409.4,570.2 L1407.9,570.1 L1406.4,569.9 L1405,569.7 L1403.6,569.4 L1402.4,569.1 L1401.2,568.7 L1400.1,568.3 L1399.1,567.8 L1398.2,567.3 L1397.4,566.8 L1396.7,566.2 L1396.2,565.7 L1395.7,565.1 L1395.4,564.5 L1395.2,563.9 L1395.2,563.3 L1395.2,562.6" fill="none" stroke="#fff" stroke-width="3.1" stroke-linecap="butt" stroke-linejoin="round"/>
<path d="M1432.3,569.2 L1432,570 L1431.6,570.7 L1431.2,571.5 L1430.6,572.2 L1429.9,573 L1429.1,573.6 L1428.3,574.3 L1427.3,574.9 L1426.3,575.5 L1425.2,576 L1424.1,576.5 L1422.9,577 L1421.6,577.4 L1420.3,577.7 L1419,578 L1417.7,578.2 L1416.3,578.4 L1414.9,578.5 L1413.6,578.6 L1412.2,578.6 L1410.9,578.6 L1409.6,578.5 L1408.3,578.4 L1407.1,578.2 L1405.9,578 L1404.7,577.7 L1403.6,577.4 L1402.6,577.1 L1401.7,576.7 L1400.9,576.2 L1400.1,575.8 L1399.4,575.3 L1398.9,574.8 L1398.4,574.3 L1398.1,573.8 L1397.8,573.2 L1397.6,572.7" fill="none" stroke="#231f20" stroke-width="7.3" stroke-linecap="butt" stroke-linejoin="round"/>
<path d="M1432.4,567.5 L1432.4,568.4 L1432.3,569.2 L1432,570 L1431.6,570.7 L1431.2,571.5 L1430.6,572.2 L1429.9,573 L1429.1,573.6 L1428.3,574.3 L1427.3,574.9 L1426.3,575.5 L1425.2,576 L1424.1,576.5 L1422.9,577 L1421.6,577.4 L1420.3,577.7 L1419,578 L1417.7,578.2 L1416.3,578.4 L1414.9,578.5 L1413.6,578.6 L1412.2,578.6 L1410.9,578.6 L1409.6,578.5 L1408.3,578.4 L1407.1,578.2 L1405.9,578 L1404.7,577.7 L1403.6,577.4 L1402.6,577.1 L1401.7,576.7 L1400.9,576.2 L1400.1,575.8 L1399.4,575.3 L1398.9,574.8 L1398.4,574.3 L1398.1,573.8 L1397.8,573.2 L1397.6,572.7 L1397.6,572.1 L1397.7,571.5" fill="none" stroke="#fff" stroke-width="3.1" stroke-linecap="butt" stroke-linejoin="round"/>
<path d="M1431.6,576.3 L1431.4,577 L1431.2,577.8 L1430.8,578.5 L1430.3,579.2 L1429.8,579.8 L1429.1,580.5 L1428.4,581.1 L1427.5,581.7 L1426.6,582.3 L1425.6,582.8 L1424.5,583.3 L1423.4,583.8 L1422.2,584.2 L1421,584.5 L1419.7,584.8 L1418.4,585.1 L1417,585.3" fill="none" stroke="#231f20" stroke-width="7.3" stroke-linecap="butt" stroke-linejoin="round"/>
<path d="M1431.5,574.8 L1431.6,575.6 L1431.6,576.3 L1431.4,577 L1431.2,577.8 L1430.8,578.5 L1430.3,579.2 L1429.8,579.8 L1429.1,580.5 L1428.4,581.1 L1427.5,581.7 L1426.6,582.3 L1425.6,582.8 L1424.5,583.3 L1423.4,583.8 L1422.2,584.2 L1421,584.5 L1419.7,584.8 L1418.4,585.1 L1417,585.3 L1415.7,585.4 L1414.3,585.5" fill="none" stroke="#fff" stroke-width="3.1" stroke-linecap="butt" stroke-linejoin="round"/>
<path class="w" d="M1414.1,611 L1414.1,597.5 A1.8,1.8 0 0 1 1417.7,597.5 L1417.7,611"/>
<path class="w" d="M1412.9,648 L1412.9,611 L1418.9,611 L1418.9,648 Z"/>
<path class="t" d="M1412.9,615 L1418.9,615 M1412.9,618.5 L1418.9,618.5 M1412.9,622 L1418.9,622 M1412.9,625 L1418.9,625"/>
<path class="w" d="M1412.5,703 L1412.9,650 L1418.9,650 L1419.3,703 Z"/>
<path class="w" d="M1410.9,645.5 L1420.9,645.5 L1420.9,650.5 L1410.9,650.5 Z M1413.9,645.5 L1413.9,650.5 M1418.4,645.5 L1418.4,650.5"/>
<ellipse class="w" cx="1415.9" cy="748.8" rx="25" ry="13.2"/>
<ellipse class="l" cx="1415.9" cy="747.5" rx="17.5" ry="9.2"/>
<path class="t" d="M1392.9,745 L1396.9,747 L1393.9,750 M1394.9,752 L1398.9,753"/>
<path class="w" d="M1403.9,742 L1403.9,750 A12,5.5 0 0 0 1427.9,750 L1427.9,742 Z"/>
<path class="w" d="M1406.4,724 L1406.4,743 A9.5,4 0 0 0 1425.4,743 L1425.4,724 A9.5,4 0 0 1 1406.4,724"/>
<path class="l" d="M1405.4,738 A10.5,4.6 0 0 0 1426.4,738"/>
<path class="l" d="M1406.4,730 A9.5,4 0 0 0 1425.4,730"/>
<path class="l" d="M1406.4,726 A9.5,4 0 0 0 1425.4,726"/>
<path class="w" d="M1407.4,712 L1407.4,724 A8.5,3.6 0 0 0 1424.4,724 L1424.4,712 A8.5,3.6 0 0 1 1407.4,712"/>
<path class="l" d="M1407.4,719 A8.5,3.6 0 0 0 1424.4,719"/><path class="l" d="M1407.4,716 A8.5,3.6 0 0 0 1424.4,716"/>
<path class="w" d="M1404.9,704.5 L1404.9,710.5 A11,4.4 0 0 0 1426.9,710.5 L1426.9,704.5 A11,4.4 0 0 0 1404.9,704.5 A11,4.4 0 0 0 1426.9,704.5"/>
<path class="w" d="M1412.5,704 L1412.5,700 L1419.3,700 L1419.3,704 A3.4,1.5 0 0 1 1412.5,704"/>
<path class="w" d="M1407.3,761 L1407.3,823 A8.6,3.5 0 0 0 1424.5,823 L1424.5,761"/>
<path class="w" d="M1408.9,825 L1408.9,829.5 L1422.9,829.5 L1422.9,825"/>
<path class="w" d="M1410.3,828.2 L1419.5,828.2 A6.4,10.3 0 0 1 1419.5,848.8 L1410.3,848.8 A6.4,10.3 0 0 1 1410.3,828.2 Z"/>
<ellipse class="w" cx="1419.5" cy="838.5" rx="6.4" ry="10.3"/>
<ellipse class="l" cx="1419.7" cy="838.7" rx="2.8" ry="5"/>
<g transform="rotate(14 1345 809.5)"><path class="w" d="M1340.5,802 L1344.5,801.2 L1349,803.5 L1350,809 L1349,815 L1345,817.8 L1341,817 L1338,812.5 L1338,806.5 Z"/><path class="t" d="M1344.5,801.2 L1345,817.8 M1340.5,802 L1341,817 M1338,806.5 L1341,805"/><ellipse class="w" cx="1347.2" cy="809.5" rx="2.6" ry="5.6"/><ellipse class="k" cx="1347.3" cy="809.5" rx="1.7" ry="3.8"/></g>
<g transform="rotate(12 1363 816)"><ellipse class="w" cx="1363" cy="816" rx="4.8" ry="7.4"/><ellipse class="l" cx="1363.4" cy="816" rx="1.9" ry="3.4"/></g>
</g>

<g id="hub">
<g transform="translate(1400 860) scale(0.16155)"><path class="l" d="M395,218 C450,190 520,215 542,290 C556,350 556,400 548,445"/>
<path class="l" d="M372,250 C420,225 470,245 475,300 C480,340 476,370 470,395"/>
<path class="l" d="M365,335 C395,330 420,350 428,412"/>
<path class="l" d="M300,290 C285,320 272,340 268,362 M392,252 C360,290 335,320 322,392"/>
<path class="l" d="M548,700 C520,800 450,900 350,930 C300,935 240,900 205,830 C195,800 205,775 235,768"/>
<path class="l" d="M500,770 C470,830 400,885 330,890 C300,890 290,870 300,850"/>
<path class="l" d="M205,830 C230,800 270,810 300,850 C310,880 320,910 350,930"/>
<path class="l" d="M275,760 L300,790 C340,770 370,740 400,680 M440,740 C410,800 360,850 300,850"/>
<path class="l" d="M270,765 L292,750"/>
<path class="l" d="M158,420 C150,500 150,580 165,640 C150,660 125,690 125,715 C130,750 170,760 195,735 C205,715 215,700 235,680"/>
<path class="l" d="M165,700 C165,680 185,675 200,690"/>
<path class="l" d="M158,420 C170,395 205,395 215,420 C222,450 210,475 195,478 C180,470 185,440 200,425"/>
<path class="l" d="M215,420 C240,400 255,390 262,365"/>
<path class="w" d="M160,300 C150,265 185,240 220,250 C245,265 252,300 250,345 C245,375 215,380 190,370 C170,350 165,325 160,300 Z"/>
<path class="l" d="M190,300 C195,290 210,288 218,296"/>
<ellipse class="l" cx="210" cy="338" rx="18" ry="11" transform="rotate(-15 210 338)"/>
<path class="l" d="M250,345 C270,370 290,390 292,430 C290,470 285,490 283,510"/>
<path class="w" d="M282,170 L338,138 C365,130 382,160 378,195 L322,255 Z"/>
<ellipse class="w" cx="290" cy="212" rx="34" ry="46" transform="rotate(18 290 212)"/>
<ellipse class="l" cx="290" cy="212" rx="16" ry="23" transform="rotate(18 290 212)"/>
<ellipse class="l" cx="337" cy="270" rx="7" ry="13" transform="rotate(15 337 270)"/>
<path class="l" d="M322,255 C320,270 325,290 345,300 M378,200 C400,205 410,215 400,235 C380,260 360,290 350,330"/>
<path class="w" d="M283,510 C250,505 225,520 222,560 C215,610 225,650 260,655 C290,700 350,690 395,660 C420,640 430,600 430,560 C430,500 420,450 395,435 C360,420 320,440 300,480 Z"/>
<path class="l" d="M270,515 C255,560 255,610 270,650 M330,470 C305,520 300,600 320,672 M375,445 C350,500 345,600 365,680 M283,510 C290,530 285,540 270,545"/>
<path class="l" d="M395,435 C380,500 380,600 395,660"/>
<path class="w" d="M480,408 C500,405 510,420 500,440 C470,470 440,500 432,560 C425,610 440,640 455,670 C470,700 475,720 470,738 C480,745 500,740 505,720 C500,690 480,660 470,620 C465,580 480,540 500,500 C520,470 530,440 515,420 C505,408 490,405 480,408 Z"/>
<path class="l" d="M460,420 C430,460 408,520 408,580 C408,640 430,690 455,735"/>
<path class="l" d="M500,500 C530,500 560,520 565,570 C568,620 550,660 520,665"/>
<path class="l" d="M478,560 C482,530 500,510 520,512 M478,600 C480,630 495,650 512,650"/>
<path class="w" d="M502.1,452.6 L569.1,470.6 A5.5,11 15 0 0 574.9,449.4 L507.9,431.4"/>
<path class="w" d="M566.7,558.5 L611.7,572.5 A5.5,11 17.3 0 0 618.3,551.5 L573.3,537.5"/>
<path class="w" d="M451.9,632.6 L506.9,648.6 A5.5,11 16.2 0 0 513.1,627.4 L458.1,611.4"/>
<path class="w" d="M501.9,700.6 L556.9,716.6 A5.5,11 16.2 0 0 563.1,695.4 L508.1,679.4"/></g>
</g>

<g id="dash">
<path class="d" d="M129.5,407.4 L129.5,419.6 L99.1,435.4 L99.1,469.9"/>
<path class="d" d="M171.6,391.6 L171.6,417.4 L140.7,430.3 L140.7,448.3"/>
<path class="d" d="M281.6,509 L281.6,563.9"/>
<path class="d" d="M322.5,494.8 L322.5,544"/>
<path class="d" d="M301.3,450 L301.3,455.5"/>
<path class="d" d="M351,619.5 L364.6,622"/>
<path class="d" d="M386,627.5 L410.4,631.6 L471,593.9 L500.7,597.1"/>
<path class="d" d="M513.8,632 L513.8,641"/>
<path class="d" d="M513.8,650 L513.8,656"/>
<path class="d" d="M513.8,668 L513.8,756"/>
<path class="d" d="M513.8,768 L513.8,777"/>
<path class="d" d="M513.8,785 L513.8,790"/>
<path class="d" d="M492.6,935.9 L492.6,684.4 L525.6,672.9 L525.6,828"/>
<path class="d" d="M492.6,935.9 L448.4,946.8 L448.4,924"/>
<path class="d" d="M549.6,630.4 L549.6,651 L562.9,646.9"/>
<path class="d" d="M562.6,682.8 L562.6,697.2"/>
<path class="d" d="M472.4,684.2 L468,687.8"/>
<path class="d" d="M448,704.5 L443.7,708"/>
<path class="d" d="M572.4,20 L572.4,485.3 L634.3,459.7 L634.3,212.3 L685,189.9 L685,249.2"/>
<path class="d" d="M685.2,343.4 L685.2,351.5"/>
<path class="t" d="M717.5,472.9 L708.7,483 M728.9,480.9 L710.8,505.8"/>
<path class="d" d="M635.5,917 L609.5,960"/>
<path class="d" d="M1413.4,0 L1413.4,448"/>
<path class="d" d="M1129.8,590.2 L1129.8,646.2 L1156.7,658.5 L1156.7,677.9"/>
<path class="d" d="M1201.6,626.9 L1201.6,678.4 L1391,747"/>
<path class="d" d="M1440.5,765 L1482.8,780.4 L1485.1,870.5 L1461.5,884.2"/>
<path class="d" d="M1238.9,670.7 L1238.9,710.9 L1199.8,697.3"/>
<path class="d" d="M1318.6,675 L1318.6,706.6 L1291.6,699.7 L1291.6,828.7 L1333.7,834.7 L1333.7,1012.7 L1426.4,1048.8 L1427.5,883.5 L1262.8,807 L1262.8,837.7"/>
<path class="d" d="M1320.4,780.4 L1320.4,818.6 L1434.8,864.4 L1434.8,899"/>
<path class="d" d="M1351,812.2 L1358.5,814.8"/>
<path class="d" d="M1369,819.3 L1404.2,832.5"/>
<path class="d" d="M1426.7,840.7 L1472.5,857.2 L1418.5,891 L1440,898.5"/>
<path class="d" d="M1190.6,808.8 L1190.6,1030.5"/>
<path class="d" d="M1145,835.2 L1087,902.6"/>
<path class="d" d="M43.1,1006.6 L43.1,1020 L33.7,1022.8 L33.7,1037.6"/>
<path class="d" d="M57.4,1008 L57.4,1048"/>
<path class="d" d="M200.7,975.6 L200.7,1033.5"/>
<path class="d" d="M266.7,892 L272,912.3 L234.3,923"/>
<path class="d" d="M211.4,948.7 L231.6,1044.3 L234.3,1048.4 L301.7,1034.9 L307,1061.8"/>
<path class="d" d="M234.3,936.6 L246.5,935.2 L269.4,1026.8 L297.6,1021.4 L280.1,927.1"/>
</g>

<g id="labels" class="n" style="filter:grayscale(1)">
<text x="456.5" y="184">13</text>
<text x="1521" y="164.5">16</text>
<text x="1521" y="285">17</text>
<text x="1163" y="528.5">10</text>
<text x="1229" y="543.5">9</text>
<text x="1259.5" y="610">8</text>
<text x="1299.5" y="615">7</text>
<text x="1244" y="735">12</text>
<text x="1210" y="796.5">11</text>
<text x="1138" y="919.5">6</text>
<text x="1226.5" y="935.5">5</text>
<text x="1505.5" y="882">14</text>
<text x="1349" y="914">14</text>
<text x="1571.5" y="1017">15</text>
<text x="365.5" y="685">4</text>
<text x="430" y="781">3</text>
<text x="408.5" y="1055.5">1</text>
<text x="344.5" y="1080.5">2</text>
</g>
<g id="feet"><rect x="457.30" y="180.90" width="5.25" height="3.8" fill="#fff"/><rect x="466.30" y="180.90" width="4.60" height="3.8" fill="#fff"/><rect x="1521.80" y="161.40" width="5.25" height="3.8" fill="#fff"/><rect x="1530.80" y="161.40" width="4.60" height="3.8" fill="#fff"/><rect x="1521.80" y="281.90" width="5.25" height="3.8" fill="#fff"/><rect x="1530.80" y="281.90" width="4.60" height="3.8" fill="#fff"/><rect x="1163.80" y="525.40" width="5.25" height="3.8" fill="#fff"/><rect x="1172.80" y="525.40" width="4.60" height="3.8" fill="#fff"/><rect x="1244.80" y="731.90" width="5.25" height="3.8" fill="#fff"/><rect x="1253.80" y="731.90" width="4.60" height="3.8" fill="#fff"/><rect x="1210.80" y="793.40" width="5.25" height="3.8" fill="#fff"/><rect x="1219.80" y="793.40" width="4.60" height="3.8" fill="#fff"/><rect x="1224.81" y="793.40" width="5.25" height="3.8" fill="#fff"/><rect x="1233.81" y="793.40" width="4.60" height="3.8" fill="#fff"/><rect x="1506.30" y="878.90" width="5.25" height="3.8" fill="#fff"/><rect x="1515.30" y="878.90" width="4.60" height="3.8" fill="#fff"/><rect x="1349.80" y="910.90" width="5.25" height="3.8" fill="#fff"/><rect x="1358.80" y="910.90" width="4.60" height="3.8" fill="#fff"/><rect x="1572.30" y="1013.90" width="5.25" height="3.8" fill="#fff"/><rect x="1581.30" y="1013.90" width="4.60" height="3.8" fill="#fff"/><rect x="409.30" y="1052.40" width="5.25" height="3.8" fill="#fff"/><rect x="418.30" y="1052.40" width="4.60" height="3.8" fill="#fff"/></g>
<g id="arrows" class="a" marker-end="url(#ah)">
<path d="M493,173.5 L540.5,173.5"/>
<path d="M1512,156 L1431,156"/>
<path d="M1512,276.7 L1431,276.7"/>
<path d="M1172.5,537.8 L1150,566.6"/>
<path d="M1229.7,552.5 L1206.9,582.2"/>
<path d="M1261,616.6 L1238,645.6"/>
<path d="M1300,622.8 L1276.6,651.9"/>
<path d="M1244.4,729.4 L1218,735.6"/>
<path d="M1240.6,787.8 L1262,773.8"/>
<path d="M1141,894.7 L1130,873.4"/>
<path d="M1232.2,911.2 L1216,878"/>
<path d="M1503.8,875.8 L1465.3,887.9"/>
<path d="M1381.7,906 L1423,910.2"/>
<path d="M1565.6,1005.8 L1496.9,965.2"/>
<path d="M385.6,677.4 L447.3,695.7"/>
<path d="M446,760.9 L477.2,721.8"/>
<path d="M415,1031.2 L381.9,937.4"/>
<path d="M343.75,1056.2 L310.3,1013.4"/>
</g>

</svg>
</body></html>
